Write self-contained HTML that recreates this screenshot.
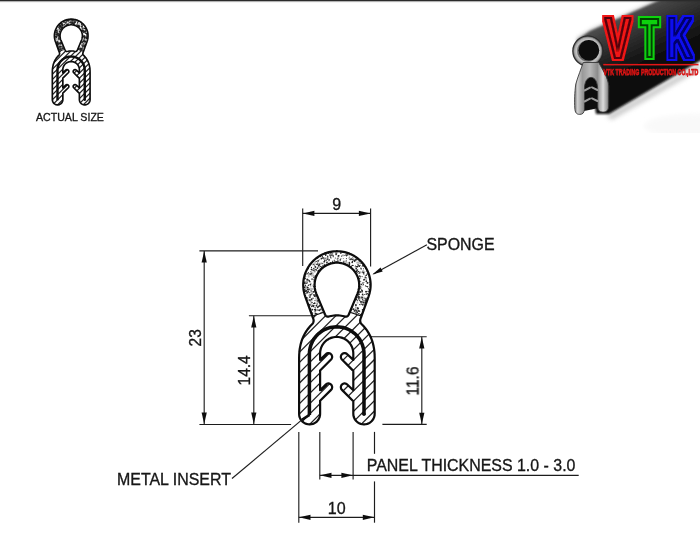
<!DOCTYPE html>
<html><head><meta charset="utf-8"><title>Sponge edge trim profile</title>
<style>html,body{margin:0;padding:0;background:#fff;}body{width:700px;height:551px;position:relative;overflow:hidden;font-family:"Liberation Sans",Arial,sans-serif;}</style></head>
<body>
<svg width="700" height="551" viewBox="0 0 700 551" style="position:absolute;left:0;top:0">
<defs>
<filter id="b1" x="-10%" y="-10%" width="120%" height="120%"><feGaussianBlur stdDeviation="0.9"/></filter>
<filter id="b05" x="-10%" y="-10%" width="120%" height="120%"><feGaussianBlur stdDeviation="0.5"/></filter>
<filter id="b03" x="-5%" y="-5%" width="110%" height="110%"><feGaussianBlur stdDeviation="0.35"/></filter>
<filter id="b2" x="-10%" y="-10%" width="120%" height="120%"><feGaussianBlur stdDeviation="2"/></filter>
</defs>
<rect width="700" height="551" fill="#fff"/>
<g filter="url(#b03)">
<line x1="302.7" y1="208.5" x2="302.7" y2="266" stroke="#1e1e1e" stroke-width="1.15"/>
<line x1="370.6" y1="208.5" x2="370.6" y2="266.4" stroke="#1e1e1e" stroke-width="1.15"/>
<line x1="302.7" y1="213.4" x2="370.6" y2="213.4" stroke="#1e1e1e" stroke-width="1.15"/>
<polygon points="302.90,213.40 314.40,210.80 314.40,216.00" fill="#111"/>
<polygon points="370.40,213.40 358.90,210.80 358.90,216.00" fill="#111"/>
<line x1="199.4" y1="250.9" x2="318.0" y2="250.9" stroke="#1e1e1e" stroke-width="1.15"/>
<line x1="199.4" y1="424.5" x2="291.1" y2="424.5" stroke="#1e1e1e" stroke-width="1.15"/>
<line x1="204.2" y1="250.9" x2="204.2" y2="424.3" stroke="#1e1e1e" stroke-width="1.15"/>
<polygon points="204.20,251.10 201.60,262.60 206.80,262.60" fill="#111"/>
<polygon points="204.20,424.10 201.60,412.60 206.80,412.60" fill="#111"/>
<line x1="248.9" y1="315.7" x2="312" y2="315.7" stroke="#1e1e1e" stroke-width="1.15"/>
<line x1="253.8" y1="315.7" x2="253.8" y2="424.3" stroke="#1e1e1e" stroke-width="1.15"/>
<polygon points="253.80,315.90 251.20,327.40 256.40,327.40" fill="#111"/>
<polygon points="253.80,424.10 251.20,412.60 256.40,412.60" fill="#111"/>
<line x1="362" y1="336.7" x2="426.7" y2="336.7" stroke="#1e1e1e" stroke-width="1.15"/>
<line x1="382.4" y1="424.4" x2="426.7" y2="424.4" stroke="#1e1e1e" stroke-width="1.15"/>
<line x1="421.8" y1="336.7" x2="421.8" y2="424.4" stroke="#1e1e1e" stroke-width="1.15"/>
<polygon points="421.80,336.90 419.20,348.40 424.40,348.40" fill="#111"/>
<polygon points="421.80,424.20 419.20,412.70 424.40,412.70" fill="#111"/>
<line x1="298.8" y1="431.9" x2="298.8" y2="522.7" stroke="#1e1e1e" stroke-width="1.15"/>
<line x1="374.5" y1="431.9" x2="374.5" y2="453.8" stroke="#1e1e1e" stroke-width="1.15"/>
<line x1="374.5" y1="481.4" x2="374.5" y2="522.7" stroke="#1e1e1e" stroke-width="1.15"/>
<line x1="319.8" y1="431.9" x2="319.8" y2="479.5" stroke="#1e1e1e" stroke-width="1.15"/>
<line x1="353.1" y1="431.9" x2="353.1" y2="479.5" stroke="#1e1e1e" stroke-width="1.15"/>
<line x1="319.8" y1="475.3" x2="578.7" y2="475.3" stroke="#1e1e1e" stroke-width="1.15"/>
<polygon points="320.00,475.30 331.50,472.70 331.50,477.90" fill="#111"/>
<polygon points="352.90,475.30 341.40,472.70 341.40,477.90" fill="#111"/>
<line x1="298.8" y1="517.3" x2="374.5" y2="517.3" stroke="#1e1e1e" stroke-width="1.15"/>
<polygon points="299.00,517.30 310.50,514.70 310.50,519.90" fill="#111"/>
<polygon points="374.30,517.30 362.80,514.70 362.80,519.90" fill="#111"/>
<line x1="426.9" y1="244.8" x2="373.5" y2="273.9" stroke="#1e1e1e" stroke-width="1.15"/>
<polygon points="372.40,274.50 382.72,271.50 380.52,267.46" fill="#111"/>
</g>
<g filter="url(#b03)">
<clipPath id="msil"><path d="M312.40,316.40 L312.72,317.23 L313.05,318.06 L313.34,318.92 L313.55,319.80 L313.63,320.72 L313.53,321.69 L313.20,322.71 L312.60,323.80 L311.36,325.01 L310.12,326.31 L308.90,327.72 L307.71,329.23 L306.54,330.85 L305.43,332.60 L304.37,334.47 L303.38,336.48 L302.46,338.62 L301.63,340.90 L300.90,343.34 L300.28,345.93 L299.78,348.69 L299.41,351.62 L299.18,354.72 L299.10,358.00 L299.10,413.90 L299.10,413.90 L299.23,415.54 L299.61,417.14 L300.24,418.67 L301.11,420.07 L302.18,421.32 L303.43,422.39 L304.83,423.26 L306.36,423.89 L307.96,424.27 L309.60,424.40 L311.24,424.27 L312.84,423.89 L314.37,423.26 L315.77,422.39 L317.02,421.32 L318.09,420.07 L318.96,418.67 L319.59,417.14 L319.97,415.54 L320.10,413.90 L320.10,400.80 L331.05,389.85 L331.58,389.20 L331.94,388.44 L332.13,387.62 L332.13,386.78 L331.94,385.96 L331.58,385.20 L331.05,384.55 L330.40,384.02 L329.64,383.66 L328.82,383.47 L327.98,383.47 L327.16,383.66 L326.40,384.02 L325.75,384.55 L320.10,390.20 L320.10,370.50 L331.05,359.55 L331.58,358.90 L331.94,358.14 L332.13,357.32 L332.13,356.48 L331.94,355.66 L331.58,354.90 L331.05,354.25 L330.40,353.72 L329.64,353.36 L328.82,353.17 L327.98,353.17 L327.16,353.36 L326.40,353.72 L325.75,354.25 L320.10,359.90 L320.10,353.50 L320.10,353.50 L320.18,351.87 L320.42,350.26 L320.81,348.68 L321.36,347.15 L322.06,345.67 L322.90,344.28 L323.87,342.97 L324.96,341.76 L326.17,340.67 L327.48,339.70 L328.87,338.86 L330.35,338.16 L331.88,337.61 L333.46,337.22 L335.07,336.98 L336.70,336.90 L338.33,336.98 L339.94,337.22 L341.52,337.61 L343.05,338.16 L344.53,338.86 L345.92,339.70 L347.23,340.67 L348.44,341.76 L349.53,342.97 L350.50,344.28 L351.34,345.67 L352.04,347.15 L352.59,348.68 L352.98,350.26 L353.22,351.87 L353.30,353.50 L353.30,353.50 L353.30,359.90 L347.25,354.25 L346.60,353.72 L345.84,353.36 L345.02,353.17 L344.18,353.17 L343.36,353.36 L342.60,353.72 L341.95,354.25 L341.42,354.90 L341.06,355.66 L340.87,356.48 L340.87,357.32 L341.06,358.14 L341.42,358.90 L341.95,359.55 L353.30,370.90 L353.30,390.20 L347.25,384.55 L346.60,384.02 L345.84,383.66 L345.02,383.47 L344.18,383.47 L343.36,383.66 L342.60,384.02 L341.95,384.55 L341.42,385.20 L341.06,385.96 L340.87,386.78 L340.87,387.62 L341.06,388.44 L341.42,389.20 L341.95,389.85 L353.30,401.20 L353.30,413.70 L353.43,415.37 L353.82,417.01 L354.47,418.56 L355.34,419.99 L356.43,421.27 L357.71,422.36 L359.14,423.23 L360.69,423.88 L362.33,424.27 L364.00,424.40 L365.67,424.27 L367.31,423.88 L368.86,423.23 L370.29,422.36 L371.57,421.27 L372.66,419.99 L373.53,418.56 L374.18,417.01 L374.57,415.37 L374.70,413.70 L374.70,413.70 L374.70,358.00 L374.62,354.72 L374.39,351.62 L374.02,348.69 L373.52,345.93 L372.90,343.34 L372.17,340.90 L371.34,338.62 L370.43,336.48 L369.43,334.47 L368.37,332.60 L367.26,330.85 L366.09,329.23 L364.90,327.72 L363.67,326.31 L362.44,325.01 L361.20,323.80 L360.60,322.71 L360.27,321.69 L360.17,320.72 L360.25,319.80 L360.46,318.92 L360.75,318.06 L361.08,317.23 L361.40,316.40 L368.62,296.28 L369.13,294.75 L369.56,293.20 L369.92,291.62 L370.21,290.04 L370.41,288.44 L370.54,286.83 L370.60,285.22 L370.58,283.60 L370.47,281.99 L370.30,280.39 L370.04,278.79 L369.71,277.22 L369.31,275.65 L368.83,274.11 L368.27,272.60 L367.65,271.11 L366.95,269.65 L366.19,268.23 L365.36,266.85 L364.46,265.51 L363.50,264.21 L362.48,262.96 L361.40,261.76 L360.27,260.62 L359.08,259.53 L357.84,258.49 L356.55,257.52 L355.22,256.61 L353.84,255.77 L352.43,254.99 L350.98,254.28 L349.50,253.64 L347.99,253.08 L346.45,252.58 L344.89,252.16 L343.32,251.82 L341.72,251.55 L340.12,251.35 L338.51,251.24 L336.90,251.20 L335.29,251.24 L333.68,251.35 L332.08,251.55 L330.48,251.82 L328.91,252.16 L327.35,252.58 L325.81,253.08 L324.30,253.64 L322.82,254.28 L321.37,254.99 L319.96,255.77 L318.58,256.61 L317.25,257.52 L315.96,258.49 L314.72,259.53 L313.53,260.62 L312.40,261.76 L311.32,262.96 L310.30,264.21 L309.34,265.51 L308.44,266.85 L307.61,268.23 L306.85,269.65 L306.15,271.11 L305.53,272.60 L304.97,274.11 L304.49,275.65 L304.09,277.22 L303.76,278.79 L303.50,280.39 L303.33,281.99 L303.22,283.60 L303.20,285.22 L303.26,286.83 L303.39,288.44 L303.59,290.04 L303.88,291.62 L304.24,293.20 L304.67,294.75 L305.18,296.28 L312.40,316.40 Z"/></clipPath>
<clipPath id="mlow"><path d="M280.00,316.30 L312.10,316.30 L323.60,312.30 L350.20,312.30 L361.70,316.30 L400.00,316.30 L400.00,440.00 L280.00,440.00 Z"/></clipPath>
<clipPath id="mup"><path d="M280.00,316.30 L312.10,316.30 L323.60,312.30 L350.20,312.30 L361.70,316.30 L400.00,316.30 L400.00,240.00 L280.00,240.00 Z"/></clipPath>
<path d="M312.40,316.40 L312.72,317.23 L313.05,318.06 L313.34,318.92 L313.55,319.80 L313.63,320.72 L313.53,321.69 L313.20,322.71 L312.60,323.80 L311.36,325.01 L310.12,326.31 L308.90,327.72 L307.71,329.23 L306.54,330.85 L305.43,332.60 L304.37,334.47 L303.38,336.48 L302.46,338.62 L301.63,340.90 L300.90,343.34 L300.28,345.93 L299.78,348.69 L299.41,351.62 L299.18,354.72 L299.10,358.00 L299.10,413.90 L299.10,413.90 L299.23,415.54 L299.61,417.14 L300.24,418.67 L301.11,420.07 L302.18,421.32 L303.43,422.39 L304.83,423.26 L306.36,423.89 L307.96,424.27 L309.60,424.40 L311.24,424.27 L312.84,423.89 L314.37,423.26 L315.77,422.39 L317.02,421.32 L318.09,420.07 L318.96,418.67 L319.59,417.14 L319.97,415.54 L320.10,413.90 L320.10,400.80 L331.05,389.85 L331.58,389.20 L331.94,388.44 L332.13,387.62 L332.13,386.78 L331.94,385.96 L331.58,385.20 L331.05,384.55 L330.40,384.02 L329.64,383.66 L328.82,383.47 L327.98,383.47 L327.16,383.66 L326.40,384.02 L325.75,384.55 L320.10,390.20 L320.10,370.50 L331.05,359.55 L331.58,358.90 L331.94,358.14 L332.13,357.32 L332.13,356.48 L331.94,355.66 L331.58,354.90 L331.05,354.25 L330.40,353.72 L329.64,353.36 L328.82,353.17 L327.98,353.17 L327.16,353.36 L326.40,353.72 L325.75,354.25 L320.10,359.90 L320.10,353.50 L320.10,353.50 L320.18,351.87 L320.42,350.26 L320.81,348.68 L321.36,347.15 L322.06,345.67 L322.90,344.28 L323.87,342.97 L324.96,341.76 L326.17,340.67 L327.48,339.70 L328.87,338.86 L330.35,338.16 L331.88,337.61 L333.46,337.22 L335.07,336.98 L336.70,336.90 L338.33,336.98 L339.94,337.22 L341.52,337.61 L343.05,338.16 L344.53,338.86 L345.92,339.70 L347.23,340.67 L348.44,341.76 L349.53,342.97 L350.50,344.28 L351.34,345.67 L352.04,347.15 L352.59,348.68 L352.98,350.26 L353.22,351.87 L353.30,353.50 L353.30,353.50 L353.30,359.90 L347.25,354.25 L346.60,353.72 L345.84,353.36 L345.02,353.17 L344.18,353.17 L343.36,353.36 L342.60,353.72 L341.95,354.25 L341.42,354.90 L341.06,355.66 L340.87,356.48 L340.87,357.32 L341.06,358.14 L341.42,358.90 L341.95,359.55 L353.30,370.90 L353.30,390.20 L347.25,384.55 L346.60,384.02 L345.84,383.66 L345.02,383.47 L344.18,383.47 L343.36,383.66 L342.60,384.02 L341.95,384.55 L341.42,385.20 L341.06,385.96 L340.87,386.78 L340.87,387.62 L341.06,388.44 L341.42,389.20 L341.95,389.85 L353.30,401.20 L353.30,413.70 L353.43,415.37 L353.82,417.01 L354.47,418.56 L355.34,419.99 L356.43,421.27 L357.71,422.36 L359.14,423.23 L360.69,423.88 L362.33,424.27 L364.00,424.40 L365.67,424.27 L367.31,423.88 L368.86,423.23 L370.29,422.36 L371.57,421.27 L372.66,419.99 L373.53,418.56 L374.18,417.01 L374.57,415.37 L374.70,413.70 L374.70,413.70 L374.70,358.00 L374.62,354.72 L374.39,351.62 L374.02,348.69 L373.52,345.93 L372.90,343.34 L372.17,340.90 L371.34,338.62 L370.43,336.48 L369.43,334.47 L368.37,332.60 L367.26,330.85 L366.09,329.23 L364.90,327.72 L363.67,326.31 L362.44,325.01 L361.20,323.80 L360.60,322.71 L360.27,321.69 L360.17,320.72 L360.25,319.80 L360.46,318.92 L360.75,318.06 L361.08,317.23 L361.40,316.40 L368.62,296.28 L369.13,294.75 L369.56,293.20 L369.92,291.62 L370.21,290.04 L370.41,288.44 L370.54,286.83 L370.60,285.22 L370.58,283.60 L370.47,281.99 L370.30,280.39 L370.04,278.79 L369.71,277.22 L369.31,275.65 L368.83,274.11 L368.27,272.60 L367.65,271.11 L366.95,269.65 L366.19,268.23 L365.36,266.85 L364.46,265.51 L363.50,264.21 L362.48,262.96 L361.40,261.76 L360.27,260.62 L359.08,259.53 L357.84,258.49 L356.55,257.52 L355.22,256.61 L353.84,255.77 L352.43,254.99 L350.98,254.28 L349.50,253.64 L347.99,253.08 L346.45,252.58 L344.89,252.16 L343.32,251.82 L341.72,251.55 L340.12,251.35 L338.51,251.24 L336.90,251.20 L335.29,251.24 L333.68,251.35 L332.08,251.55 L330.48,251.82 L328.91,252.16 L327.35,252.58 L325.81,253.08 L324.30,253.64 L322.82,254.28 L321.37,254.99 L319.96,255.77 L318.58,256.61 L317.25,257.52 L315.96,258.49 L314.72,259.53 L313.53,260.62 L312.40,261.76 L311.32,262.96 L310.30,264.21 L309.34,265.51 L308.44,266.85 L307.61,268.23 L306.85,269.65 L306.15,271.11 L305.53,272.60 L304.97,274.11 L304.49,275.65 L304.09,277.22 L303.76,278.79 L303.50,280.39 L303.33,281.99 L303.22,283.60 L303.20,285.22 L303.26,286.83 L303.39,288.44 L303.59,290.04 L303.88,291.62 L304.24,293.20 L304.67,294.75 L305.18,296.28 L312.40,316.40 Z" fill="#fff"/>
<g clip-path="url(#msil)"><g clip-path="url(#mlow)" stroke="#222" stroke-width="1.25">
<line x1="290" y1="145.3" x2="385" y2="50.3"/>
<line x1="290" y1="155.6" x2="385" y2="60.6"/>
<line x1="290" y1="165.9" x2="385" y2="70.9"/>
<line x1="290" y1="176.2" x2="385" y2="81.2"/>
<line x1="290" y1="186.5" x2="385" y2="91.5"/>
<line x1="290" y1="196.8" x2="385" y2="101.8"/>
<line x1="290" y1="207.1" x2="385" y2="112.1"/>
<line x1="290" y1="217.4" x2="385" y2="122.4"/>
<line x1="290" y1="227.7" x2="385" y2="132.7"/>
<line x1="290" y1="238.0" x2="385" y2="143.0"/>
<line x1="290" y1="248.3" x2="385" y2="153.3"/>
<line x1="290" y1="258.6" x2="385" y2="163.6"/>
<line x1="290" y1="268.9" x2="385" y2="173.9"/>
<line x1="290" y1="279.2" x2="385" y2="184.2"/>
<line x1="290" y1="289.5" x2="385" y2="194.5"/>
<line x1="290" y1="299.8" x2="385" y2="204.8"/>
<line x1="290" y1="310.1" x2="385" y2="215.1"/>
<line x1="290" y1="320.4" x2="385" y2="225.4"/>
<line x1="290" y1="330.7" x2="385" y2="235.7"/>
<line x1="290" y1="341.0" x2="385" y2="246.0"/>
<line x1="290" y1="351.3" x2="385" y2="256.3"/>
<line x1="290" y1="361.6" x2="385" y2="266.6"/>
<line x1="290" y1="371.9" x2="385" y2="276.9"/>
<line x1="290" y1="382.2" x2="385" y2="287.2"/>
<line x1="290" y1="392.5" x2="385" y2="297.5"/>
<line x1="290" y1="402.8" x2="385" y2="307.8"/>
<line x1="290" y1="413.1" x2="385" y2="318.1"/>
<line x1="290" y1="423.4" x2="385" y2="328.4"/>
<line x1="290" y1="433.7" x2="385" y2="338.7"/>
<line x1="290" y1="444.0" x2="385" y2="349.0"/>
<line x1="290" y1="454.3" x2="385" y2="359.3"/>
<line x1="290" y1="464.6" x2="385" y2="369.6"/>
<line x1="290" y1="474.9" x2="385" y2="379.9"/>
<line x1="290" y1="485.2" x2="385" y2="390.2"/>
<line x1="290" y1="495.5" x2="385" y2="400.5"/>
<line x1="290" y1="505.8" x2="385" y2="410.8"/>
<line x1="290" y1="516.1" x2="385" y2="421.1"/>
<line x1="290" y1="526.4" x2="385" y2="431.4"/>
<line x1="290" y1="536.7" x2="385" y2="441.7"/>
<line x1="290" y1="547.0" x2="385" y2="452.0"/>
<line x1="290" y1="557.3" x2="385" y2="462.3"/>
<line x1="290" y1="567.6" x2="385" y2="472.6"/>
<line x1="290" y1="577.9" x2="385" y2="482.9"/>
<line x1="290" y1="588.2" x2="385" y2="493.2"/>
<line x1="290" y1="598.5" x2="385" y2="503.5"/>
<line x1="290" y1="608.8" x2="385" y2="513.8"/>
</g></g>
<g clip-path="url(#msil)"><g clip-path="url(#mup)" fill="#222">
<circle cx="324.0" cy="259.3" r="0.45"/>
<circle cx="305.4" cy="285.4" r="0.60"/>
<circle cx="340.8" cy="253.0" r="0.85"/>
<circle cx="363.5" cy="268.7" r="0.55"/>
<circle cx="307.6" cy="287.8" r="0.55"/>
<circle cx="315.2" cy="295.3" r="0.70"/>
<circle cx="368.3" cy="273.6" r="0.55"/>
<circle cx="358.8" cy="296.5" r="0.55"/>
<circle cx="305.4" cy="283.8" r="0.55"/>
<circle cx="356.0" cy="259.3" r="0.70"/>
<circle cx="305.7" cy="286.9" r="0.60"/>
<circle cx="353.0" cy="309.3" r="0.60"/>
<circle cx="309.6" cy="265.8" r="0.70"/>
<circle cx="367.8" cy="282.8" r="0.55"/>
<circle cx="365.4" cy="304.7" r="0.85"/>
<circle cx="313.0" cy="264.8" r="0.55"/>
<circle cx="313.5" cy="268.2" r="0.55"/>
<circle cx="357.7" cy="308.5" r="0.85"/>
<circle cx="307.7" cy="292.1" r="0.45"/>
<circle cx="314.1" cy="316.0" r="0.70"/>
<circle cx="312.0" cy="272.1" r="0.45"/>
<circle cx="307.6" cy="287.5" r="0.85"/>
<circle cx="307.5" cy="273.7" r="0.45"/>
<circle cx="370.7" cy="290.0" r="0.70"/>
<circle cx="309.1" cy="306.7" r="0.70"/>
<circle cx="310.7" cy="300.0" r="0.60"/>
<circle cx="338.2" cy="263.0" r="0.85"/>
<circle cx="367.6" cy="300.6" r="0.60"/>
<circle cx="351.5" cy="266.8" r="0.60"/>
<circle cx="367.2" cy="273.2" r="0.55"/>
<circle cx="324.4" cy="264.2" r="0.55"/>
<circle cx="359.6" cy="304.6" r="0.55"/>
<circle cx="314.8" cy="282.5" r="0.45"/>
<circle cx="334.9" cy="262.2" r="0.85"/>
<circle cx="316.3" cy="264.4" r="0.55"/>
<circle cx="314.7" cy="309.5" r="0.70"/>
<circle cx="358.4" cy="271.6" r="0.70"/>
<circle cx="359.2" cy="298.4" r="0.45"/>
<circle cx="361.1" cy="263.4" r="0.60"/>
<circle cx="356.5" cy="271.2" r="0.85"/>
<circle cx="331.0" cy="257.9" r="0.60"/>
<circle cx="366.4" cy="294.0" r="0.85"/>
<circle cx="332.6" cy="261.5" r="0.45"/>
<circle cx="357.4" cy="259.2" r="0.55"/>
<circle cx="320.5" cy="301.5" r="0.85"/>
<circle cx="333.5" cy="250.9" r="0.45"/>
<circle cx="332.7" cy="253.9" r="0.55"/>
<circle cx="331.7" cy="263.5" r="0.60"/>
<circle cx="358.0" cy="310.0" r="0.55"/>
<circle cx="369.5" cy="292.8" r="0.60"/>
<circle cx="310.6" cy="309.0" r="0.70"/>
<circle cx="316.2" cy="313.8" r="0.70"/>
<circle cx="349.4" cy="264.2" r="0.70"/>
<circle cx="306.8" cy="273.9" r="0.60"/>
<circle cx="358.3" cy="315.1" r="0.45"/>
<circle cx="355.9" cy="304.7" r="0.60"/>
<circle cx="359.2" cy="261.5" r="0.45"/>
<circle cx="345.0" cy="264.1" r="0.60"/>
<circle cx="363.8" cy="279.9" r="0.60"/>
<circle cx="367.7" cy="291.3" r="0.45"/>
<circle cx="356.2" cy="268.7" r="0.85"/>
<circle cx="349.7" cy="267.4" r="0.45"/>
<circle cx="322.8" cy="263.6" r="0.55"/>
<circle cx="318.9" cy="260.1" r="0.45"/>
<circle cx="316.1" cy="261.4" r="0.60"/>
<circle cx="337.2" cy="262.7" r="0.85"/>
<circle cx="366.1" cy="302.3" r="0.85"/>
<circle cx="366.0" cy="291.7" r="0.85"/>
<circle cx="310.3" cy="284.6" r="0.85"/>
<circle cx="359.0" cy="297.4" r="0.55"/>
<circle cx="362.6" cy="265.0" r="0.55"/>
<circle cx="317.1" cy="293.2" r="0.70"/>
<circle cx="347.6" cy="254.3" r="0.55"/>
<circle cx="309.9" cy="281.8" r="0.70"/>
<circle cx="314.7" cy="315.5" r="0.70"/>
<circle cx="360.7" cy="314.8" r="0.70"/>
<circle cx="355.3" cy="266.8" r="0.60"/>
<circle cx="309.8" cy="304.8" r="0.85"/>
<circle cx="320.7" cy="256.7" r="0.60"/>
<circle cx="317.1" cy="310.0" r="0.70"/>
<circle cx="329.2" cy="259.8" r="0.70"/>
<circle cx="327.8" cy="257.2" r="0.60"/>
<circle cx="368.6" cy="297.5" r="0.60"/>
<circle cx="355.9" cy="307.1" r="0.60"/>
<circle cx="321.1" cy="312.6" r="0.55"/>
<circle cx="358.1" cy="278.1" r="0.45"/>
<circle cx="360.1" cy="291.9" r="0.85"/>
<circle cx="309.4" cy="281.1" r="0.60"/>
<circle cx="320.8" cy="266.4" r="0.60"/>
<circle cx="308.9" cy="292.7" r="0.45"/>
<circle cx="315.4" cy="310.6" r="0.70"/>
<circle cx="318.1" cy="260.9" r="0.85"/>
<circle cx="365.7" cy="300.0" r="0.70"/>
<circle cx="315.5" cy="267.4" r="0.45"/>
<circle cx="366.4" cy="275.2" r="0.70"/>
<circle cx="360.3" cy="314.8" r="0.55"/>
<circle cx="366.3" cy="281.2" r="0.85"/>
<circle cx="336.2" cy="254.0" r="0.85"/>
<circle cx="318.4" cy="256.4" r="0.55"/>
<circle cx="308.1" cy="305.1" r="0.70"/>
<circle cx="342.1" cy="251.6" r="0.60"/>
<circle cx="322.2" cy="313.2" r="0.55"/>
<circle cx="328.7" cy="264.2" r="0.85"/>
<circle cx="340.5" cy="251.0" r="0.70"/>
<circle cx="314.7" cy="303.2" r="0.85"/>
<circle cx="305.0" cy="282.7" r="0.55"/>
<circle cx="317.1" cy="264.1" r="0.60"/>
<circle cx="308.1" cy="291.4" r="0.85"/>
<circle cx="313.9" cy="264.2" r="0.70"/>
<circle cx="352.5" cy="261.5" r="0.70"/>
<circle cx="354.2" cy="316.8" r="0.55"/>
<circle cx="324.4" cy="261.6" r="0.85"/>
<circle cx="360.8" cy="278.4" r="0.45"/>
<circle cx="352.2" cy="262.3" r="0.85"/>
<circle cx="360.1" cy="301.1" r="0.45"/>
<circle cx="324.8" cy="313.9" r="0.45"/>
<circle cx="323.4" cy="267.7" r="0.45"/>
<circle cx="359.6" cy="313.4" r="0.45"/>
<circle cx="313.5" cy="303.6" r="0.60"/>
<circle cx="360.9" cy="301.6" r="0.85"/>
<circle cx="317.5" cy="307.6" r="0.70"/>
<circle cx="355.7" cy="265.8" r="0.45"/>
<circle cx="340.3" cy="259.9" r="0.70"/>
<circle cx="307.1" cy="282.9" r="0.70"/>
<circle cx="357.3" cy="300.7" r="0.60"/>
<circle cx="314.7" cy="265.8" r="0.55"/>
<circle cx="317.4" cy="268.1" r="0.85"/>
<circle cx="318.6" cy="265.7" r="0.85"/>
<circle cx="317.1" cy="304.0" r="0.70"/>
<circle cx="362.2" cy="311.2" r="0.45"/>
<circle cx="303.7" cy="289.8" r="0.85"/>
<circle cx="337.9" cy="261.1" r="0.85"/>
<circle cx="319.2" cy="301.9" r="0.45"/>
<circle cx="307.8" cy="289.5" r="0.85"/>
<circle cx="354.2" cy="311.1" r="0.45"/>
<circle cx="360.6" cy="276.8" r="0.60"/>
<circle cx="313.7" cy="270.2" r="0.55"/>
<circle cx="358.9" cy="294.2" r="0.55"/>
<circle cx="347.3" cy="255.2" r="0.55"/>
<circle cx="330.9" cy="252.5" r="0.85"/>
<circle cx="365.4" cy="277.2" r="0.45"/>
<circle cx="326.9" cy="262.4" r="0.70"/>
<circle cx="366.7" cy="277.8" r="0.45"/>
<circle cx="334.1" cy="260.1" r="0.45"/>
<circle cx="359.7" cy="276.0" r="0.85"/>
<circle cx="337.3" cy="258.9" r="0.60"/>
<circle cx="305.0" cy="275.1" r="0.55"/>
<circle cx="322.3" cy="305.9" r="0.45"/>
<circle cx="311.9" cy="302.4" r="0.55"/>
<circle cx="314.5" cy="281.2" r="0.85"/>
<circle cx="316.1" cy="276.2" r="0.85"/>
<circle cx="311.6" cy="273.4" r="0.55"/>
<circle cx="318.3" cy="298.3" r="0.55"/>
<circle cx="303.0" cy="287.2" r="0.45"/>
<circle cx="362.8" cy="301.9" r="0.70"/>
<circle cx="322.8" cy="265.9" r="0.70"/>
<circle cx="317.4" cy="300.9" r="0.70"/>
<circle cx="361.9" cy="304.1" r="0.70"/>
<circle cx="331.9" cy="255.2" r="0.70"/>
<circle cx="355.7" cy="309.9" r="0.55"/>
<circle cx="365.5" cy="268.6" r="0.55"/>
<circle cx="316.4" cy="305.6" r="0.85"/>
<circle cx="356.0" cy="259.8" r="0.85"/>
<circle cx="320.3" cy="304.5" r="0.55"/>
<circle cx="318.8" cy="314.6" r="0.70"/>
<circle cx="315.4" cy="266.9" r="0.85"/>
<circle cx="317.6" cy="274.3" r="0.55"/>
<circle cx="369.3" cy="295.2" r="0.70"/>
<circle cx="312.5" cy="302.4" r="0.45"/>
<circle cx="351.0" cy="309.9" r="0.60"/>
<circle cx="319.6" cy="316.4" r="0.85"/>
<circle cx="310.8" cy="271.5" r="0.45"/>
<circle cx="332.7" cy="261.0" r="0.45"/>
<circle cx="322.9" cy="314.7" r="0.85"/>
<circle cx="354.2" cy="299.8" r="0.55"/>
<circle cx="311.1" cy="290.9" r="0.70"/>
<circle cx="303.5" cy="282.2" r="0.85"/>
<circle cx="307.9" cy="273.3" r="0.55"/>
<circle cx="309.9" cy="273.9" r="0.70"/>
<circle cx="359.3" cy="297.1" r="0.70"/>
<circle cx="307.1" cy="292.4" r="0.60"/>
<circle cx="318.4" cy="310.4" r="0.45"/>
<circle cx="313.7" cy="259.8" r="0.45"/>
<circle cx="314.8" cy="290.3" r="0.85"/>
<circle cx="304.7" cy="291.6" r="0.70"/>
<circle cx="362.5" cy="299.7" r="0.70"/>
<circle cx="306.0" cy="293.6" r="0.55"/>
<circle cx="351.4" cy="306.5" r="0.45"/>
<circle cx="347.5" cy="314.6" r="0.55"/>
<circle cx="306.3" cy="283.5" r="0.55"/>
<circle cx="319.3" cy="265.1" r="0.55"/>
<circle cx="324.3" cy="265.3" r="0.85"/>
<circle cx="351.6" cy="307.3" r="0.70"/>
<circle cx="365.5" cy="302.7" r="0.70"/>
<circle cx="346.1" cy="254.3" r="0.55"/>
<circle cx="325.5" cy="258.6" r="0.45"/>
<circle cx="363.4" cy="300.8" r="0.55"/>
<circle cx="360.5" cy="304.7" r="0.45"/>
<circle cx="365.1" cy="300.4" r="0.70"/>
<circle cx="362.7" cy="304.2" r="0.45"/>
<circle cx="361.1" cy="291.9" r="0.60"/>
<circle cx="335.3" cy="258.0" r="0.55"/>
<circle cx="356.2" cy="310.9" r="0.85"/>
<circle cx="357.2" cy="272.6" r="0.45"/>
<circle cx="360.7" cy="260.6" r="0.45"/>
<circle cx="325.7" cy="255.5" r="0.55"/>
<circle cx="370.8" cy="284.0" r="0.85"/>
<circle cx="315.9" cy="296.6" r="0.70"/>
<circle cx="312.3" cy="312.8" r="0.45"/>
<circle cx="341.5" cy="256.1" r="0.60"/>
<circle cx="319.5" cy="310.3" r="0.85"/>
<circle cx="312.7" cy="315.8" r="0.55"/>
<circle cx="364.2" cy="279.6" r="0.85"/>
<circle cx="354.9" cy="260.5" r="0.70"/>
<circle cx="351.0" cy="266.5" r="0.55"/>
<circle cx="309.3" cy="280.4" r="0.55"/>
<circle cx="355.9" cy="305.2" r="0.85"/>
<circle cx="318.3" cy="271.2" r="0.85"/>
<circle cx="325.8" cy="265.1" r="0.55"/>
<circle cx="319.1" cy="313.9" r="0.45"/>
<circle cx="312.2" cy="293.7" r="0.55"/>
<circle cx="358.8" cy="298.9" r="0.70"/>
<circle cx="320.3" cy="256.4" r="0.45"/>
<circle cx="320.8" cy="309.2" r="0.70"/>
<circle cx="358.5" cy="296.2" r="0.85"/>
<circle cx="317.9" cy="307.0" r="0.85"/>
<circle cx="362.6" cy="294.4" r="0.85"/>
<circle cx="363.1" cy="295.2" r="0.45"/>
<circle cx="346.5" cy="255.7" r="0.70"/>
<circle cx="352.7" cy="259.6" r="0.70"/>
<circle cx="363.5" cy="284.2" r="0.55"/>
<circle cx="366.2" cy="271.3" r="0.45"/>
<circle cx="340.2" cy="259.9" r="0.55"/>
<circle cx="338.4" cy="255.9" r="0.85"/>
<circle cx="333.8" cy="262.9" r="0.70"/>
<circle cx="361.3" cy="284.5" r="0.70"/>
<circle cx="328.3" cy="253.2" r="0.45"/>
<circle cx="319.6" cy="264.3" r="0.70"/>
<circle cx="369.6" cy="284.8" r="0.55"/>
<circle cx="334.2" cy="260.2" r="0.45"/>
<circle cx="359.9" cy="292.1" r="0.70"/>
<circle cx="358.8" cy="277.1" r="0.60"/>
<circle cx="358.0" cy="264.7" r="0.70"/>
<circle cx="350.9" cy="315.8" r="0.55"/>
<circle cx="359.1" cy="273.3" r="0.60"/>
<circle cx="346.1" cy="254.8" r="0.60"/>
<circle cx="311.3" cy="269.6" r="0.70"/>
<circle cx="367.0" cy="302.3" r="0.55"/>
<circle cx="313.7" cy="279.7" r="0.55"/>
<circle cx="315.4" cy="276.4" r="0.85"/>
<circle cx="312.4" cy="309.6" r="0.85"/>
<circle cx="366.7" cy="286.3" r="0.60"/>
<circle cx="314.6" cy="296.1" r="0.85"/>
<circle cx="349.7" cy="257.0" r="0.45"/>
<circle cx="319.6" cy="264.9" r="0.55"/>
<circle cx="351.8" cy="265.8" r="0.55"/>
<circle cx="350.5" cy="312.3" r="0.60"/>
<circle cx="310.7" cy="263.5" r="0.70"/>
<circle cx="363.8" cy="273.9" r="0.70"/>
<circle cx="325.3" cy="266.1" r="0.45"/>
<circle cx="361.2" cy="268.9" r="0.70"/>
<circle cx="358.6" cy="271.5" r="0.60"/>
<circle cx="352.8" cy="257.7" r="0.45"/>
<circle cx="353.5" cy="309.2" r="0.85"/>
<circle cx="360.8" cy="281.3" r="0.45"/>
<circle cx="358.4" cy="310.9" r="0.85"/>
<circle cx="327.8" cy="259.0" r="0.85"/>
<circle cx="346.3" cy="260.8" r="0.55"/>
<circle cx="364.3" cy="277.7" r="0.45"/>
<circle cx="367.6" cy="293.6" r="0.60"/>
<circle cx="367.6" cy="282.8" r="0.85"/>
<circle cx="360.0" cy="288.1" r="0.70"/>
<circle cx="307.6" cy="292.8" r="0.55"/>
<circle cx="366.3" cy="291.6" r="0.70"/>
<circle cx="353.2" cy="265.5" r="0.55"/>
<circle cx="368.3" cy="273.9" r="0.55"/>
<circle cx="318.8" cy="314.6" r="0.45"/>
<circle cx="354.0" cy="260.3" r="0.70"/>
<circle cx="334.8" cy="260.3" r="0.45"/>
<circle cx="352.0" cy="305.3" r="0.60"/>
<circle cx="364.3" cy="298.3" r="0.45"/>
<circle cx="361.5" cy="289.9" r="0.60"/>
<circle cx="319.8" cy="259.7" r="0.45"/>
<circle cx="321.4" cy="258.6" r="0.85"/>
<circle cx="359.0" cy="286.3" r="0.70"/>
<circle cx="325.7" cy="254.8" r="0.85"/>
<circle cx="358.3" cy="298.1" r="0.55"/>
<circle cx="368.5" cy="288.9" r="0.45"/>
<circle cx="358.6" cy="280.3" r="0.45"/>
<circle cx="304.6" cy="276.1" r="0.85"/>
<circle cx="343.6" cy="261.9" r="0.55"/>
<circle cx="363.4" cy="265.7" r="0.70"/>
<circle cx="327.7" cy="256.2" r="0.70"/>
<circle cx="358.3" cy="259.6" r="0.85"/>
<circle cx="344.9" cy="255.4" r="0.55"/>
<circle cx="319.4" cy="302.0" r="0.70"/>
<circle cx="307.2" cy="279.4" r="0.85"/>
<circle cx="360.6" cy="314.5" r="0.60"/>
<circle cx="362.4" cy="272.0" r="0.55"/>
<circle cx="362.6" cy="309.8" r="0.85"/>
<circle cx="352.3" cy="255.1" r="0.60"/>
<circle cx="311.8" cy="314.7" r="0.55"/>
<circle cx="312.7" cy="313.0" r="0.60"/>
<circle cx="304.4" cy="286.6" r="0.45"/>
<circle cx="358.2" cy="297.3" r="0.70"/>
<circle cx="355.9" cy="312.9" r="0.60"/>
<circle cx="359.1" cy="259.7" r="0.55"/>
<circle cx="305.8" cy="291.1" r="0.60"/>
<circle cx="333.1" cy="255.6" r="0.70"/>
<circle cx="362.3" cy="291.7" r="0.70"/>
<circle cx="354.5" cy="261.3" r="0.70"/>
<circle cx="340.9" cy="258.8" r="0.55"/>
<circle cx="311.5" cy="267.4" r="0.60"/>
<circle cx="324.8" cy="260.4" r="0.70"/>
<circle cx="308.1" cy="280.0" r="0.70"/>
<circle cx="349.5" cy="263.4" r="0.70"/>
<circle cx="355.9" cy="315.0" r="0.70"/>
<circle cx="321.4" cy="309.9" r="0.45"/>
<circle cx="361.6" cy="315.5" r="0.55"/>
<circle cx="359.7" cy="272.2" r="0.55"/>
<circle cx="313.4" cy="306.3" r="0.85"/>
<circle cx="357.0" cy="297.4" r="0.55"/>
<circle cx="365.8" cy="298.7" r="0.60"/>
<circle cx="314.2" cy="269.9" r="0.45"/>
<circle cx="364.0" cy="282.5" r="0.45"/>
<circle cx="309.9" cy="294.3" r="0.55"/>
<circle cx="313.8" cy="305.6" r="0.60"/>
<circle cx="326.4" cy="265.6" r="0.60"/>
<circle cx="357.7" cy="308.0" r="0.85"/>
<circle cx="316.6" cy="261.4" r="0.45"/>
<circle cx="319.3" cy="305.9" r="0.85"/>
<circle cx="365.4" cy="285.8" r="0.55"/>
<circle cx="312.2" cy="305.2" r="0.70"/>
<circle cx="362.1" cy="297.7" r="0.85"/>
<circle cx="359.5" cy="311.1" r="0.70"/>
<circle cx="305.1" cy="278.4" r="0.85"/>
<circle cx="349.5" cy="264.3" r="0.70"/>
<circle cx="369.3" cy="292.1" r="0.45"/>
<circle cx="368.4" cy="291.2" r="0.60"/>
<circle cx="308.4" cy="272.6" r="0.55"/>
<circle cx="308.9" cy="289.4" r="0.85"/>
<circle cx="354.5" cy="299.3" r="0.60"/>
<circle cx="362.1" cy="290.5" r="0.85"/>
<circle cx="316.4" cy="275.3" r="0.85"/>
<circle cx="317.9" cy="264.1" r="0.85"/>
<circle cx="312.0" cy="313.7" r="0.60"/>
<circle cx="321.1" cy="316.2" r="0.60"/>
<circle cx="350.1" cy="312.5" r="0.70"/>
<circle cx="362.9" cy="304.8" r="0.85"/>
<circle cx="330.6" cy="256.0" r="0.70"/>
<circle cx="358.0" cy="308.3" r="0.85"/>
<circle cx="351.3" cy="268.6" r="0.60"/>
<circle cx="362.9" cy="283.0" r="0.70"/>
<circle cx="359.4" cy="278.6" r="0.70"/>
<circle cx="343.0" cy="255.0" r="0.60"/>
<circle cx="362.0" cy="314.2" r="0.55"/>
<circle cx="319.0" cy="309.9" r="0.60"/>
<circle cx="326.0" cy="313.5" r="0.45"/>
<circle cx="338.9" cy="255.7" r="0.60"/>
<circle cx="313.9" cy="277.6" r="0.70"/>
<circle cx="312.6" cy="270.6" r="0.45"/>
<circle cx="361.1" cy="283.9" r="0.45"/>
<circle cx="325.4" cy="312.6" r="0.85"/>
<circle cx="365.7" cy="277.6" r="0.55"/>
<circle cx="315.4" cy="309.7" r="0.70"/>
<circle cx="313.5" cy="291.8" r="0.85"/>
<circle cx="307.9" cy="287.8" r="0.45"/>
<circle cx="329.4" cy="255.7" r="0.45"/>
<circle cx="349.4" cy="262.4" r="0.70"/>
<circle cx="338.1" cy="258.8" r="0.55"/>
<circle cx="330.4" cy="257.3" r="0.55"/>
<circle cx="370.1" cy="282.3" r="0.70"/>
<circle cx="357.0" cy="271.0" r="0.55"/>
<circle cx="326.2" cy="260.5" r="0.60"/>
<circle cx="314.2" cy="291.4" r="0.45"/>
<circle cx="323.3" cy="310.1" r="0.70"/>
<circle cx="316.4" cy="270.0" r="0.70"/>
<circle cx="365.3" cy="275.9" r="0.60"/>
<circle cx="308.5" cy="285.3" r="0.70"/>
<circle cx="367.6" cy="286.7" r="0.70"/>
<circle cx="314.1" cy="268.3" r="0.55"/>
<circle cx="317.9" cy="257.8" r="0.55"/>
<circle cx="320.0" cy="305.8" r="0.55"/>
<circle cx="358.8" cy="265.3" r="0.60"/>
<circle cx="315.4" cy="313.7" r="0.85"/>
<circle cx="315.1" cy="307.4" r="0.55"/>
<circle cx="309.3" cy="300.0" r="0.85"/>
<circle cx="354.5" cy="301.0" r="0.45"/>
<circle cx="363.0" cy="270.8" r="0.45"/>
<circle cx="359.6" cy="300.6" r="0.55"/>
<circle cx="316.8" cy="257.6" r="0.70"/>
<circle cx="367.3" cy="301.7" r="0.55"/>
<circle cx="351.1" cy="310.0" r="0.45"/>
<circle cx="318.4" cy="306.6" r="0.60"/>
<circle cx="321.6" cy="267.4" r="0.85"/>
<circle cx="312.0" cy="262.5" r="0.60"/>
<circle cx="311.6" cy="299.2" r="0.85"/>
<circle cx="313.3" cy="306.1" r="0.85"/>
<circle cx="368.5" cy="294.6" r="0.85"/>
<circle cx="361.7" cy="301.8" r="0.60"/>
<circle cx="357.5" cy="272.5" r="0.45"/>
<circle cx="325.8" cy="313.6" r="0.70"/>
<circle cx="368.8" cy="296.0" r="0.70"/>
<circle cx="315.2" cy="294.8" r="0.55"/>
<circle cx="336.2" cy="261.9" r="0.85"/>
<circle cx="330.5" cy="262.7" r="0.60"/>
<circle cx="310.2" cy="295.7" r="0.70"/>
<circle cx="349.6" cy="265.2" r="0.55"/>
<circle cx="309.8" cy="292.6" r="0.60"/>
<circle cx="309.9" cy="297.1" r="0.85"/>
<circle cx="360.3" cy="286.3" r="0.55"/>
<circle cx="350.1" cy="259.5" r="0.70"/>
<circle cx="362.1" cy="276.6" r="0.55"/>
<circle cx="308.5" cy="268.7" r="0.60"/>
<circle cx="336.0" cy="252.0" r="0.60"/>
<circle cx="322.5" cy="256.5" r="0.60"/>
<circle cx="333.2" cy="256.7" r="0.60"/>
<circle cx="303.4" cy="280.9" r="0.70"/>
<circle cx="306.2" cy="297.8" r="0.85"/>
<circle cx="370.8" cy="282.2" r="0.85"/>
<circle cx="310.7" cy="274.0" r="0.85"/>
<circle cx="362.6" cy="312.0" r="0.55"/>
<circle cx="307.6" cy="297.9" r="0.60"/>
<circle cx="354.9" cy="271.2" r="0.55"/>
<circle cx="317.0" cy="258.3" r="0.60"/>
<circle cx="362.0" cy="266.2" r="0.45"/>
<circle cx="303.1" cy="287.5" r="0.70"/>
<circle cx="311.7" cy="269.4" r="0.85"/>
<circle cx="346.4" cy="258.6" r="0.55"/>
<circle cx="312.1" cy="279.1" r="0.70"/>
<circle cx="332.5" cy="262.0" r="0.60"/>
<circle cx="363.3" cy="302.5" r="0.70"/>
<circle cx="313.0" cy="298.3" r="0.70"/>
<circle cx="370.5" cy="281.7" r="0.55"/>
<circle cx="314.0" cy="295.2" r="0.70"/>
<circle cx="351.2" cy="259.0" r="0.85"/>
<circle cx="365.9" cy="286.3" r="0.45"/>
<circle cx="316.4" cy="305.9" r="0.45"/>
<circle cx="313.9" cy="294.6" r="0.70"/>
<circle cx="354.4" cy="310.8" r="0.85"/>
<circle cx="305.9" cy="276.7" r="0.45"/>
<circle cx="362.1" cy="313.5" r="0.85"/>
<circle cx="329.0" cy="260.6" r="0.55"/>
<circle cx="310.1" cy="301.8" r="0.45"/>
<circle cx="329.9" cy="252.2" r="0.45"/>
<circle cx="315.8" cy="269.4" r="0.55"/>
<circle cx="355.2" cy="272.2" r="0.45"/>
<circle cx="303.2" cy="290.1" r="0.45"/>
<circle cx="336.1" cy="254.0" r="0.60"/>
<circle cx="313.7" cy="286.7" r="0.60"/>
<circle cx="364.7" cy="294.5" r="0.55"/>
<circle cx="305.5" cy="291.2" r="0.85"/>
<circle cx="311.7" cy="306.5" r="0.70"/>
<circle cx="317.0" cy="314.1" r="0.85"/>
<circle cx="305.6" cy="271.4" r="0.55"/>
<circle cx="323.0" cy="257.9" r="0.85"/>
<circle cx="310.8" cy="294.6" r="0.60"/>
<circle cx="328.4" cy="253.3" r="0.60"/>
<circle cx="343.2" cy="258.5" r="0.45"/>
<circle cx="307.3" cy="302.8" r="0.55"/>
<circle cx="356.5" cy="299.3" r="0.85"/>
<circle cx="363.1" cy="265.7" r="0.85"/>
<circle cx="365.4" cy="302.2" r="0.85"/>
<circle cx="327.2" cy="265.6" r="0.55"/>
<circle cx="315.2" cy="309.4" r="0.70"/>
<circle cx="357.2" cy="312.2" r="0.85"/>
<circle cx="325.2" cy="311.6" r="0.85"/>
<circle cx="368.4" cy="288.8" r="0.60"/>
<circle cx="305.0" cy="281.9" r="0.55"/>
<circle cx="320.4" cy="266.5" r="0.45"/>
<circle cx="303.5" cy="279.5" r="0.85"/>
<circle cx="360.4" cy="288.1" r="0.55"/>
<circle cx="323.8" cy="308.0" r="0.45"/>
<circle cx="304.3" cy="277.2" r="0.45"/>
<circle cx="306.5" cy="290.7" r="0.70"/>
<circle cx="360.2" cy="281.5" r="0.45"/>
<circle cx="357.4" cy="270.0" r="0.85"/>
<circle cx="326.8" cy="316.3" r="0.55"/>
<circle cx="369.3" cy="291.5" r="0.45"/>
<circle cx="304.5" cy="283.1" r="0.85"/>
<circle cx="357.5" cy="266.6" r="0.85"/>
<circle cx="327.1" cy="259.2" r="0.55"/>
<circle cx="364.4" cy="307.2" r="0.55"/>
<circle cx="328.8" cy="263.4" r="0.45"/>
<circle cx="308.0" cy="298.9" r="0.45"/>
<circle cx="359.7" cy="311.1" r="0.60"/>
<circle cx="304.4" cy="287.4" r="0.70"/>
<circle cx="367.1" cy="274.5" r="0.55"/>
<circle cx="352.5" cy="265.4" r="0.60"/>
<circle cx="315.0" cy="300.6" r="0.60"/>
<circle cx="322.1" cy="316.6" r="0.55"/>
<circle cx="356.9" cy="313.9" r="0.55"/>
<circle cx="360.9" cy="268.2" r="0.60"/>
<circle cx="318.5" cy="270.7" r="0.85"/>
<circle cx="315.5" cy="309.1" r="0.60"/>
<circle cx="311.2" cy="311.1" r="0.55"/>
<circle cx="354.5" cy="255.6" r="0.55"/>
<circle cx="343.3" cy="262.7" r="0.45"/>
<circle cx="302.8" cy="283.3" r="0.55"/>
<circle cx="305.4" cy="296.8" r="0.45"/>
<circle cx="303.2" cy="283.6" r="0.70"/>
<circle cx="358.4" cy="313.7" r="0.60"/>
<circle cx="317.8" cy="262.5" r="0.45"/>
<circle cx="306.4" cy="291.2" r="0.45"/>
<circle cx="323.4" cy="315.1" r="0.45"/>
<circle cx="361.0" cy="302.8" r="0.70"/>
<circle cx="326.3" cy="253.4" r="0.85"/>
<circle cx="359.0" cy="294.2" r="0.85"/>
<circle cx="356.6" cy="266.8" r="0.70"/>
<circle cx="363.5" cy="272.6" r="0.85"/>
<circle cx="310.5" cy="312.1" r="0.85"/>
<circle cx="326.9" cy="262.9" r="0.55"/>
<circle cx="360.2" cy="265.2" r="0.55"/>
<circle cx="311.3" cy="294.0" r="0.55"/>
<circle cx="361.6" cy="304.6" r="0.45"/>
<circle cx="320.4" cy="268.8" r="0.70"/>
<circle cx="356.2" cy="259.2" r="0.55"/>
<circle cx="317.6" cy="274.2" r="0.60"/>
<circle cx="359.3" cy="266.2" r="0.85"/>
<circle cx="314.9" cy="287.8" r="0.45"/>
<circle cx="318.9" cy="267.0" r="1.33" opacity="0.28"/>
<circle cx="306.8" cy="292.3" r="0.85" opacity="0.28"/>
<circle cx="314.9" cy="277.8" r="1.14" opacity="0.28"/>
<circle cx="303.2" cy="279.1" r="1.14" opacity="0.28"/>
<circle cx="317.7" cy="306.8" r="1.04" opacity="0.28"/>
<circle cx="324.4" cy="253.8" r="1.33" opacity="0.28"/>
<circle cx="365.9" cy="278.9" r="1.33" opacity="0.28"/>
<circle cx="310.0" cy="300.2" r="0.85" opacity="0.28"/>
<circle cx="329.7" cy="251.8" r="1.14" opacity="0.28"/>
<circle cx="306.5" cy="300.2" r="1.61" opacity="0.28"/>
<circle cx="314.8" cy="271.8" r="0.85" opacity="0.28"/>
<circle cx="330.1" cy="252.4" r="1.04" opacity="0.28"/>
<circle cx="323.7" cy="261.9" r="0.85" opacity="0.28"/>
<circle cx="313.8" cy="285.6" r="1.61" opacity="0.28"/>
<circle cx="319.4" cy="270.3" r="1.14" opacity="0.28"/>
<circle cx="322.6" cy="258.0" r="1.04" opacity="0.28"/>
<circle cx="359.3" cy="262.6" r="1.61" opacity="0.28"/>
<circle cx="332.5" cy="262.6" r="1.04" opacity="0.28"/>
<circle cx="359.4" cy="289.3" r="1.33" opacity="0.28"/>
<circle cx="315.1" cy="262.8" r="1.04" opacity="0.28"/>
<circle cx="305.3" cy="289.5" r="1.04" opacity="0.28"/>
<circle cx="354.6" cy="260.2" r="1.04" opacity="0.28"/>
<circle cx="321.8" cy="263.3" r="1.04" opacity="0.28"/>
<circle cx="310.8" cy="311.4" r="1.04" opacity="0.28"/>
<circle cx="361.7" cy="297.0" r="1.33" opacity="0.28"/>
<circle cx="350.8" cy="259.5" r="0.85" opacity="0.28"/>
<circle cx="311.9" cy="279.3" r="1.04" opacity="0.28"/>
<circle cx="364.7" cy="303.2" r="1.61" opacity="0.28"/>
<circle cx="353.2" cy="270.1" r="1.14" opacity="0.28"/>
<circle cx="311.2" cy="303.4" r="1.04" opacity="0.28"/>
<circle cx="306.9" cy="280.6" r="1.04" opacity="0.28"/>
<circle cx="308.5" cy="305.3" r="0.85" opacity="0.28"/>
<circle cx="348.7" cy="263.3" r="1.61" opacity="0.28"/>
<circle cx="306.9" cy="282.0" r="1.14" opacity="0.28"/>
<circle cx="320.1" cy="309.7" r="1.04" opacity="0.28"/>
<circle cx="342.9" cy="255.8" r="0.85" opacity="0.28"/>
<circle cx="325.5" cy="313.2" r="1.14" opacity="0.28"/>
<circle cx="354.9" cy="261.2" r="1.14" opacity="0.28"/>
<circle cx="359.9" cy="298.2" r="1.33" opacity="0.28"/>
<circle cx="307.1" cy="286.5" r="1.04" opacity="0.28"/>
<circle cx="307.2" cy="293.0" r="1.04" opacity="0.28"/>
<circle cx="305.6" cy="298.5" r="1.04" opacity="0.28"/>
<circle cx="322.5" cy="266.8" r="0.85" opacity="0.28"/>
<circle cx="308.7" cy="280.8" r="1.04" opacity="0.28"/>
<circle cx="342.1" cy="251.9" r="1.14" opacity="0.28"/>
<circle cx="327.2" cy="262.4" r="1.33" opacity="0.28"/>
<circle cx="367.2" cy="298.4" r="1.61" opacity="0.28"/>
<circle cx="317.0" cy="300.0" r="1.04" opacity="0.28"/>
<circle cx="308.1" cy="287.7" r="0.85" opacity="0.28"/>
<circle cx="306.2" cy="288.3" r="1.04" opacity="0.28"/>
<circle cx="318.0" cy="301.7" r="1.61" opacity="0.28"/>
<circle cx="360.3" cy="272.3" r="1.33" opacity="0.28"/>
<circle cx="343.8" cy="261.4" r="1.14" opacity="0.28"/>
<circle cx="369.6" cy="277.0" r="1.33" opacity="0.28"/>
<circle cx="311.0" cy="283.8" r="1.04" opacity="0.28"/>
<circle cx="311.2" cy="272.4" r="1.04" opacity="0.28"/>
<circle cx="315.1" cy="311.9" r="1.14" opacity="0.28"/>
<circle cx="302.8" cy="284.7" r="1.14" opacity="0.28"/>
<circle cx="367.2" cy="300.1" r="0.85" opacity="0.28"/>
<circle cx="314.7" cy="291.5" r="1.14" opacity="0.28"/>
<circle cx="312.0" cy="314.7" r="1.33" opacity="0.28"/>
<circle cx="310.0" cy="305.3" r="1.14" opacity="0.28"/>
<circle cx="367.0" cy="299.7" r="1.61" opacity="0.28"/>
<circle cx="312.2" cy="275.2" r="1.61" opacity="0.28"/>
<circle cx="322.1" cy="314.3" r="1.61" opacity="0.28"/>
<circle cx="359.4" cy="300.0" r="1.04" opacity="0.28"/>
<circle cx="349.1" cy="310.5" r="1.33" opacity="0.28"/>
<circle cx="308.2" cy="304.2" r="1.33" opacity="0.28"/>
<circle cx="310.8" cy="286.1" r="0.85" opacity="0.28"/>
<circle cx="308.9" cy="295.4" r="0.85" opacity="0.28"/>
<circle cx="364.8" cy="302.8" r="1.61" opacity="0.28"/>
<circle cx="314.0" cy="305.5" r="1.04" opacity="0.28"/>
<circle cx="350.0" cy="315.9" r="1.61" opacity="0.28"/>
<circle cx="349.3" cy="258.2" r="1.14" opacity="0.28"/>
<circle cx="349.3" cy="254.2" r="1.61" opacity="0.28"/>
<circle cx="324.5" cy="267.1" r="1.14" opacity="0.28"/>
<circle cx="367.1" cy="282.9" r="1.14" opacity="0.28"/>
<circle cx="308.8" cy="274.6" r="1.14" opacity="0.28"/>
<circle cx="355.6" cy="309.6" r="1.61" opacity="0.28"/>
<circle cx="324.1" cy="258.3" r="1.14" opacity="0.28"/>
<circle cx="310.7" cy="289.0" r="1.61" opacity="0.28"/>
<circle cx="312.8" cy="289.1" r="1.14" opacity="0.28"/>
<circle cx="346.4" cy="265.4" r="1.61" opacity="0.28"/>
<circle cx="330.2" cy="254.7" r="1.33" opacity="0.28"/>
<circle cx="336.7" cy="252.3" r="1.61" opacity="0.28"/>
<circle cx="325.7" cy="258.5" r="1.61" opacity="0.28"/>
<circle cx="350.4" cy="310.7" r="1.61" opacity="0.28"/>
<circle cx="313.8" cy="270.0" r="1.33" opacity="0.28"/>
<circle cx="314.6" cy="270.8" r="1.33" opacity="0.28"/>
<circle cx="358.7" cy="281.1" r="0.85" opacity="0.28"/>
<circle cx="315.1" cy="310.8" r="1.33" opacity="0.28"/>
<circle cx="311.8" cy="309.7" r="0.85" opacity="0.28"/>
<circle cx="311.3" cy="300.5" r="1.33" opacity="0.28"/>
<circle cx="330.5" cy="254.2" r="1.33" opacity="0.28"/>
<circle cx="361.2" cy="287.5" r="1.14" opacity="0.28"/>
<circle cx="361.7" cy="297.4" r="1.14" opacity="0.28"/>
<circle cx="308.7" cy="276.5" r="1.14" opacity="0.28"/>
<circle cx="352.7" cy="258.8" r="1.61" opacity="0.28"/>
<circle cx="321.4" cy="263.5" r="0.85" opacity="0.28"/>
<circle cx="315.8" cy="298.6" r="1.04" opacity="0.28"/>
<circle cx="311.2" cy="294.7" r="1.04" opacity="0.28"/>
<circle cx="366.5" cy="299.5" r="1.33" opacity="0.28"/>
<circle cx="305.0" cy="290.0" r="1.61" opacity="0.28"/>
<circle cx="320.2" cy="263.5" r="1.04" opacity="0.28"/>
<circle cx="338.3" cy="257.3" r="1.14" opacity="0.28"/>
<circle cx="321.8" cy="312.7" r="1.14" opacity="0.28"/>
<circle cx="320.8" cy="315.2" r="1.61" opacity="0.28"/>
<circle cx="339.7" cy="251.1" r="1.04" opacity="0.28"/>
<circle cx="331.4" cy="253.3" r="1.14" opacity="0.28"/>
<circle cx="343.6" cy="264.4" r="0.85" opacity="0.28"/>
<circle cx="359.5" cy="314.4" r="1.14" opacity="0.28"/>
<circle cx="348.7" cy="266.1" r="1.33" opacity="0.28"/>
<circle cx="345.7" cy="262.0" r="1.61" opacity="0.28"/>
<circle cx="314.1" cy="276.4" r="1.14" opacity="0.28"/>
<circle cx="357.5" cy="302.7" r="1.04" opacity="0.28"/>
<circle cx="357.2" cy="262.7" r="1.14" opacity="0.28"/>
<circle cx="355.3" cy="313.5" r="1.61" opacity="0.28"/>
<circle cx="363.9" cy="298.1" r="1.61" opacity="0.28"/>
<circle cx="312.1" cy="292.0" r="1.14" opacity="0.28"/>
<circle cx="313.0" cy="273.2" r="0.85" opacity="0.28"/>
<circle cx="359.5" cy="279.9" r="0.85" opacity="0.28"/>
<circle cx="336.0" cy="254.6" r="1.14" opacity="0.28"/>
<circle cx="358.8" cy="281.4" r="1.04" opacity="0.28"/>
<circle cx="362.9" cy="284.9" r="1.14" opacity="0.28"/>
<circle cx="337.6" cy="263.2" r="1.14" opacity="0.28"/>
<circle cx="348.6" cy="312.8" r="1.04" opacity="0.28"/>
<circle cx="352.6" cy="313.3" r="1.61" opacity="0.28"/>
<circle cx="358.2" cy="280.5" r="0.85" opacity="0.28"/>
<circle cx="315.1" cy="288.0" r="0.85" opacity="0.28"/>
<circle cx="363.5" cy="272.0" r="1.61" opacity="0.28"/>
</g></g>
<path d="M312.09999999999997,316.29999999999995 L324.6,312.0 M361.7,316.29999999999995 L349.19999999999993,312.0" stroke="#111" stroke-width="1.21" fill="none"/>
<path d="M336.90,262.70 L335.44,262.75 L333.99,262.89 L332.55,263.13 L331.13,263.46 L329.73,263.88 L328.36,264.40 L327.03,265.00 L325.75,265.69 L324.51,266.46 L323.32,267.31 L322.19,268.24 L321.13,269.24 L320.13,270.30 L319.20,271.43 L318.35,272.62 L317.58,273.86 L316.90,275.15 L316.29,276.48 L315.78,277.84 L315.36,279.24 L315.03,280.66 L314.79,282.10 L314.65,283.55 L314.60,285.01 L314.65,286.47 L314.79,287.92 L315.03,289.36 L315.36,290.79 L315.79,292.18 L316.30,293.55 L325.00,314.50 L325.37,315.18 L325.79,315.73 L326.29,316.14 L326.87,316.42 L327.57,316.55 L328.40,316.55 L329.73,316.27 L331.11,315.98 L332.54,315.72 L333.99,315.50 L335.44,315.35 L336.90,315.30 L338.36,315.35 L339.81,315.50 L341.26,315.72 L342.69,315.98 L344.07,316.27 L345.40,316.55 L346.23,316.55 L346.93,316.42 L347.51,316.14 L348.01,315.73 L348.43,315.18 L348.80,314.50 L357.50,293.55 L358.01,292.18 L358.44,290.79 L358.77,289.36 L359.01,287.92 L359.15,286.47 L359.20,285.01 L359.15,283.55 L359.01,282.10 L358.77,280.66 L358.44,279.24 L358.02,277.84 L357.51,276.48 L356.90,275.15 L356.22,273.86 L355.45,272.62 L354.60,271.43 L353.67,270.30 L352.67,269.24 L351.61,268.24 L350.48,267.31 L349.29,266.46 L348.05,265.69 L346.77,265.00 L345.44,264.40 L344.07,263.88 L342.67,263.46 L341.25,263.13 L339.81,262.89 L338.36,262.75 L336.90,262.70 Z" fill="#fff" stroke="#0a0a0a" stroke-width="2.2" stroke-linejoin="round"/>
<path d="M312.40,316.40 L312.72,317.23 L313.05,318.06 L313.34,318.92 L313.55,319.80 L313.63,320.72 L313.53,321.69 L313.20,322.71 L312.60,323.80 L311.36,325.01 L310.12,326.31 L308.90,327.72 L307.71,329.23 L306.54,330.85 L305.43,332.60 L304.37,334.47 L303.38,336.48 L302.46,338.62 L301.63,340.90 L300.90,343.34 L300.28,345.93 L299.78,348.69 L299.41,351.62 L299.18,354.72 L299.10,358.00 L299.10,413.90 L299.10,413.90 L299.23,415.54 L299.61,417.14 L300.24,418.67 L301.11,420.07 L302.18,421.32 L303.43,422.39 L304.83,423.26 L306.36,423.89 L307.96,424.27 L309.60,424.40 L311.24,424.27 L312.84,423.89 L314.37,423.26 L315.77,422.39 L317.02,421.32 L318.09,420.07 L318.96,418.67 L319.59,417.14 L319.97,415.54 L320.10,413.90 L320.10,400.80 L331.05,389.85 L331.58,389.20 L331.94,388.44 L332.13,387.62 L332.13,386.78 L331.94,385.96 L331.58,385.20 L331.05,384.55 L330.40,384.02 L329.64,383.66 L328.82,383.47 L327.98,383.47 L327.16,383.66 L326.40,384.02 L325.75,384.55 L320.10,390.20 L320.10,370.50 L331.05,359.55 L331.58,358.90 L331.94,358.14 L332.13,357.32 L332.13,356.48 L331.94,355.66 L331.58,354.90 L331.05,354.25 L330.40,353.72 L329.64,353.36 L328.82,353.17 L327.98,353.17 L327.16,353.36 L326.40,353.72 L325.75,354.25 L320.10,359.90 L320.10,353.50 L320.10,353.50 L320.18,351.87 L320.42,350.26 L320.81,348.68 L321.36,347.15 L322.06,345.67 L322.90,344.28 L323.87,342.97 L324.96,341.76 L326.17,340.67 L327.48,339.70 L328.87,338.86 L330.35,338.16 L331.88,337.61 L333.46,337.22 L335.07,336.98 L336.70,336.90 L338.33,336.98 L339.94,337.22 L341.52,337.61 L343.05,338.16 L344.53,338.86 L345.92,339.70 L347.23,340.67 L348.44,341.76 L349.53,342.97 L350.50,344.28 L351.34,345.67 L352.04,347.15 L352.59,348.68 L352.98,350.26 L353.22,351.87 L353.30,353.50 L353.30,353.50 L353.30,359.90 L347.25,354.25 L346.60,353.72 L345.84,353.36 L345.02,353.17 L344.18,353.17 L343.36,353.36 L342.60,353.72 L341.95,354.25 L341.42,354.90 L341.06,355.66 L340.87,356.48 L340.87,357.32 L341.06,358.14 L341.42,358.90 L341.95,359.55 L353.30,370.90 L353.30,390.20 L347.25,384.55 L346.60,384.02 L345.84,383.66 L345.02,383.47 L344.18,383.47 L343.36,383.66 L342.60,384.02 L341.95,384.55 L341.42,385.20 L341.06,385.96 L340.87,386.78 L340.87,387.62 L341.06,388.44 L341.42,389.20 L341.95,389.85 L353.30,401.20 L353.30,413.70 L353.43,415.37 L353.82,417.01 L354.47,418.56 L355.34,419.99 L356.43,421.27 L357.71,422.36 L359.14,423.23 L360.69,423.88 L362.33,424.27 L364.00,424.40 L365.67,424.27 L367.31,423.88 L368.86,423.23 L370.29,422.36 L371.57,421.27 L372.66,419.99 L373.53,418.56 L374.18,417.01 L374.57,415.37 L374.70,413.70 L374.70,413.70 L374.70,358.00 L374.62,354.72 L374.39,351.62 L374.02,348.69 L373.52,345.93 L372.90,343.34 L372.17,340.90 L371.34,338.62 L370.43,336.48 L369.43,334.47 L368.37,332.60 L367.26,330.85 L366.09,329.23 L364.90,327.72 L363.67,326.31 L362.44,325.01 L361.20,323.80 L360.60,322.71 L360.27,321.69 L360.17,320.72 L360.25,319.80 L360.46,318.92 L360.75,318.06 L361.08,317.23 L361.40,316.40 L368.62,296.28 L369.13,294.75 L369.56,293.20 L369.92,291.62 L370.21,290.04 L370.41,288.44 L370.54,286.83 L370.60,285.22 L370.58,283.60 L370.47,281.99 L370.30,280.39 L370.04,278.79 L369.71,277.22 L369.31,275.65 L368.83,274.11 L368.27,272.60 L367.65,271.11 L366.95,269.65 L366.19,268.23 L365.36,266.85 L364.46,265.51 L363.50,264.21 L362.48,262.96 L361.40,261.76 L360.27,260.62 L359.08,259.53 L357.84,258.49 L356.55,257.52 L355.22,256.61 L353.84,255.77 L352.43,254.99 L350.98,254.28 L349.50,253.64 L347.99,253.08 L346.45,252.58 L344.89,252.16 L343.32,251.82 L341.72,251.55 L340.12,251.35 L338.51,251.24 L336.90,251.20 L335.29,251.24 L333.68,251.35 L332.08,251.55 L330.48,251.82 L328.91,252.16 L327.35,252.58 L325.81,253.08 L324.30,253.64 L322.82,254.28 L321.37,254.99 L319.96,255.77 L318.58,256.61 L317.25,257.52 L315.96,258.49 L314.72,259.53 L313.53,260.62 L312.40,261.76 L311.32,262.96 L310.30,264.21 L309.34,265.51 L308.44,266.85 L307.61,268.23 L306.85,269.65 L306.15,271.11 L305.53,272.60 L304.97,274.11 L304.49,275.65 L304.09,277.22 L303.76,278.79 L303.50,280.39 L303.33,281.99 L303.22,283.60 L303.20,285.22 L303.26,286.83 L303.39,288.44 L303.59,290.04 L303.88,291.62 L304.24,293.20 L304.67,294.75 L305.18,296.28 L312.40,316.40 Z" fill="none" stroke="#0a0a0a" stroke-width="2.2" stroke-linejoin="round"/>
<path d="M309.40,415.10 L309.40,354.10 L309.40,354.10 L309.48,351.96 L309.74,349.83 L310.15,347.73 L310.74,345.66 L311.48,343.65 L312.38,341.71 L313.42,339.84 L314.61,338.05 L315.94,336.37 L317.40,334.80 L318.97,333.34 L320.65,332.01 L322.44,330.82 L324.31,329.78 L326.25,328.88 L328.26,328.14 L330.33,327.55 L332.43,327.14 L334.56,326.88 L336.70,326.80 L338.84,326.88 L340.97,327.14 L343.07,327.55 L345.14,328.14 L347.15,328.88 L349.09,329.78 L350.96,330.82 L352.75,332.01 L354.43,333.34 L356.00,334.80 L357.46,336.37 L358.79,338.05 L359.98,339.84 L361.02,341.71 L361.92,343.65 L362.66,345.66 L363.25,347.73 L363.66,349.83 L363.92,351.96 L364.00,354.10 L364.00,414.20" fill="none" stroke="#0a0a0a" stroke-width="3.5" stroke-linecap="butt" stroke-linejoin="round"/>
<circle cx="364.0" cy="414.2" r="1.75" fill="#0a0a0a"/>
<line x1="321.5" y1="359.9" x2="326.6" y2="354.9" stroke="#0a0a0a" stroke-width="1.65" stroke-linecap="round"/>
<line x1="321.5" y1="390.2" x2="326.6" y2="385.2" stroke="#0a0a0a" stroke-width="1.65" stroke-linecap="round"/>
<line x1="232" y1="478.5" x2="303" y2="418.9" stroke="#1e1e1e" stroke-width="1.15"/>
<line x1="302.2" y1="419.5" x2="309.6" y2="414.9" stroke="#0a0a0a" stroke-width="2.6"/>
</g>
<g filter="url(#b03)"><g transform="translate(-96.9,-105.2) scale(0.499,0.495)">
<clipPath id="ssil"><path d="M312.40,316.40 L312.72,317.23 L313.05,318.06 L313.34,318.92 L313.55,319.80 L313.63,320.72 L313.53,321.69 L313.20,322.71 L312.60,323.80 L311.36,325.01 L310.12,326.31 L308.90,327.72 L307.71,329.23 L306.54,330.85 L305.43,332.60 L304.37,334.47 L303.38,336.48 L302.46,338.62 L301.63,340.90 L300.90,343.34 L300.28,345.93 L299.78,348.69 L299.41,351.62 L299.18,354.72 L299.10,358.00 L299.10,413.90 L299.10,413.90 L299.23,415.54 L299.61,417.14 L300.24,418.67 L301.11,420.07 L302.18,421.32 L303.43,422.39 L304.83,423.26 L306.36,423.89 L307.96,424.27 L309.60,424.40 L311.24,424.27 L312.84,423.89 L314.37,423.26 L315.77,422.39 L317.02,421.32 L318.09,420.07 L318.96,418.67 L319.59,417.14 L319.97,415.54 L320.10,413.90 L320.10,400.80 L331.05,389.85 L331.58,389.20 L331.94,388.44 L332.13,387.62 L332.13,386.78 L331.94,385.96 L331.58,385.20 L331.05,384.55 L330.40,384.02 L329.64,383.66 L328.82,383.47 L327.98,383.47 L327.16,383.66 L326.40,384.02 L325.75,384.55 L320.10,390.20 L320.10,370.50 L331.05,359.55 L331.58,358.90 L331.94,358.14 L332.13,357.32 L332.13,356.48 L331.94,355.66 L331.58,354.90 L331.05,354.25 L330.40,353.72 L329.64,353.36 L328.82,353.17 L327.98,353.17 L327.16,353.36 L326.40,353.72 L325.75,354.25 L320.10,359.90 L320.10,353.50 L320.10,353.50 L320.18,351.87 L320.42,350.26 L320.81,348.68 L321.36,347.15 L322.06,345.67 L322.90,344.28 L323.87,342.97 L324.96,341.76 L326.17,340.67 L327.48,339.70 L328.87,338.86 L330.35,338.16 L331.88,337.61 L333.46,337.22 L335.07,336.98 L336.70,336.90 L338.33,336.98 L339.94,337.22 L341.52,337.61 L343.05,338.16 L344.53,338.86 L345.92,339.70 L347.23,340.67 L348.44,341.76 L349.53,342.97 L350.50,344.28 L351.34,345.67 L352.04,347.15 L352.59,348.68 L352.98,350.26 L353.22,351.87 L353.30,353.50 L353.30,353.50 L353.30,359.90 L347.25,354.25 L346.60,353.72 L345.84,353.36 L345.02,353.17 L344.18,353.17 L343.36,353.36 L342.60,353.72 L341.95,354.25 L341.42,354.90 L341.06,355.66 L340.87,356.48 L340.87,357.32 L341.06,358.14 L341.42,358.90 L341.95,359.55 L353.30,370.90 L353.30,390.20 L347.25,384.55 L346.60,384.02 L345.84,383.66 L345.02,383.47 L344.18,383.47 L343.36,383.66 L342.60,384.02 L341.95,384.55 L341.42,385.20 L341.06,385.96 L340.87,386.78 L340.87,387.62 L341.06,388.44 L341.42,389.20 L341.95,389.85 L353.30,401.20 L353.30,413.70 L353.43,415.37 L353.82,417.01 L354.47,418.56 L355.34,419.99 L356.43,421.27 L357.71,422.36 L359.14,423.23 L360.69,423.88 L362.33,424.27 L364.00,424.40 L365.67,424.27 L367.31,423.88 L368.86,423.23 L370.29,422.36 L371.57,421.27 L372.66,419.99 L373.53,418.56 L374.18,417.01 L374.57,415.37 L374.70,413.70 L374.70,413.70 L374.70,358.00 L374.62,354.72 L374.39,351.62 L374.02,348.69 L373.52,345.93 L372.90,343.34 L372.17,340.90 L371.34,338.62 L370.43,336.48 L369.43,334.47 L368.37,332.60 L367.26,330.85 L366.09,329.23 L364.90,327.72 L363.67,326.31 L362.44,325.01 L361.20,323.80 L360.60,322.71 L360.27,321.69 L360.17,320.72 L360.25,319.80 L360.46,318.92 L360.75,318.06 L361.08,317.23 L361.40,316.40 L368.62,296.28 L369.13,294.75 L369.56,293.20 L369.92,291.62 L370.21,290.04 L370.41,288.44 L370.54,286.83 L370.60,285.22 L370.58,283.60 L370.47,281.99 L370.30,280.39 L370.04,278.79 L369.71,277.22 L369.31,275.65 L368.83,274.11 L368.27,272.60 L367.65,271.11 L366.95,269.65 L366.19,268.23 L365.36,266.85 L364.46,265.51 L363.50,264.21 L362.48,262.96 L361.40,261.76 L360.27,260.62 L359.08,259.53 L357.84,258.49 L356.55,257.52 L355.22,256.61 L353.84,255.77 L352.43,254.99 L350.98,254.28 L349.50,253.64 L347.99,253.08 L346.45,252.58 L344.89,252.16 L343.32,251.82 L341.72,251.55 L340.12,251.35 L338.51,251.24 L336.90,251.20 L335.29,251.24 L333.68,251.35 L332.08,251.55 L330.48,251.82 L328.91,252.16 L327.35,252.58 L325.81,253.08 L324.30,253.64 L322.82,254.28 L321.37,254.99 L319.96,255.77 L318.58,256.61 L317.25,257.52 L315.96,258.49 L314.72,259.53 L313.53,260.62 L312.40,261.76 L311.32,262.96 L310.30,264.21 L309.34,265.51 L308.44,266.85 L307.61,268.23 L306.85,269.65 L306.15,271.11 L305.53,272.60 L304.97,274.11 L304.49,275.65 L304.09,277.22 L303.76,278.79 L303.50,280.39 L303.33,281.99 L303.22,283.60 L303.20,285.22 L303.26,286.83 L303.39,288.44 L303.59,290.04 L303.88,291.62 L304.24,293.20 L304.67,294.75 L305.18,296.28 L312.40,316.40 Z"/></clipPath>
<clipPath id="slow"><path d="M280.00,316.30 L312.10,316.30 L323.60,312.30 L350.20,312.30 L361.70,316.30 L400.00,316.30 L400.00,440.00 L280.00,440.00 Z"/></clipPath>
<clipPath id="sup"><path d="M280.00,316.30 L312.10,316.30 L323.60,312.30 L350.20,312.30 L361.70,316.30 L400.00,316.30 L400.00,240.00 L280.00,240.00 Z"/></clipPath>
<path d="M312.40,316.40 L312.72,317.23 L313.05,318.06 L313.34,318.92 L313.55,319.80 L313.63,320.72 L313.53,321.69 L313.20,322.71 L312.60,323.80 L311.36,325.01 L310.12,326.31 L308.90,327.72 L307.71,329.23 L306.54,330.85 L305.43,332.60 L304.37,334.47 L303.38,336.48 L302.46,338.62 L301.63,340.90 L300.90,343.34 L300.28,345.93 L299.78,348.69 L299.41,351.62 L299.18,354.72 L299.10,358.00 L299.10,413.90 L299.10,413.90 L299.23,415.54 L299.61,417.14 L300.24,418.67 L301.11,420.07 L302.18,421.32 L303.43,422.39 L304.83,423.26 L306.36,423.89 L307.96,424.27 L309.60,424.40 L311.24,424.27 L312.84,423.89 L314.37,423.26 L315.77,422.39 L317.02,421.32 L318.09,420.07 L318.96,418.67 L319.59,417.14 L319.97,415.54 L320.10,413.90 L320.10,400.80 L331.05,389.85 L331.58,389.20 L331.94,388.44 L332.13,387.62 L332.13,386.78 L331.94,385.96 L331.58,385.20 L331.05,384.55 L330.40,384.02 L329.64,383.66 L328.82,383.47 L327.98,383.47 L327.16,383.66 L326.40,384.02 L325.75,384.55 L320.10,390.20 L320.10,370.50 L331.05,359.55 L331.58,358.90 L331.94,358.14 L332.13,357.32 L332.13,356.48 L331.94,355.66 L331.58,354.90 L331.05,354.25 L330.40,353.72 L329.64,353.36 L328.82,353.17 L327.98,353.17 L327.16,353.36 L326.40,353.72 L325.75,354.25 L320.10,359.90 L320.10,353.50 L320.10,353.50 L320.18,351.87 L320.42,350.26 L320.81,348.68 L321.36,347.15 L322.06,345.67 L322.90,344.28 L323.87,342.97 L324.96,341.76 L326.17,340.67 L327.48,339.70 L328.87,338.86 L330.35,338.16 L331.88,337.61 L333.46,337.22 L335.07,336.98 L336.70,336.90 L338.33,336.98 L339.94,337.22 L341.52,337.61 L343.05,338.16 L344.53,338.86 L345.92,339.70 L347.23,340.67 L348.44,341.76 L349.53,342.97 L350.50,344.28 L351.34,345.67 L352.04,347.15 L352.59,348.68 L352.98,350.26 L353.22,351.87 L353.30,353.50 L353.30,353.50 L353.30,359.90 L347.25,354.25 L346.60,353.72 L345.84,353.36 L345.02,353.17 L344.18,353.17 L343.36,353.36 L342.60,353.72 L341.95,354.25 L341.42,354.90 L341.06,355.66 L340.87,356.48 L340.87,357.32 L341.06,358.14 L341.42,358.90 L341.95,359.55 L353.30,370.90 L353.30,390.20 L347.25,384.55 L346.60,384.02 L345.84,383.66 L345.02,383.47 L344.18,383.47 L343.36,383.66 L342.60,384.02 L341.95,384.55 L341.42,385.20 L341.06,385.96 L340.87,386.78 L340.87,387.62 L341.06,388.44 L341.42,389.20 L341.95,389.85 L353.30,401.20 L353.30,413.70 L353.43,415.37 L353.82,417.01 L354.47,418.56 L355.34,419.99 L356.43,421.27 L357.71,422.36 L359.14,423.23 L360.69,423.88 L362.33,424.27 L364.00,424.40 L365.67,424.27 L367.31,423.88 L368.86,423.23 L370.29,422.36 L371.57,421.27 L372.66,419.99 L373.53,418.56 L374.18,417.01 L374.57,415.37 L374.70,413.70 L374.70,413.70 L374.70,358.00 L374.62,354.72 L374.39,351.62 L374.02,348.69 L373.52,345.93 L372.90,343.34 L372.17,340.90 L371.34,338.62 L370.43,336.48 L369.43,334.47 L368.37,332.60 L367.26,330.85 L366.09,329.23 L364.90,327.72 L363.67,326.31 L362.44,325.01 L361.20,323.80 L360.60,322.71 L360.27,321.69 L360.17,320.72 L360.25,319.80 L360.46,318.92 L360.75,318.06 L361.08,317.23 L361.40,316.40 L368.62,296.28 L369.13,294.75 L369.56,293.20 L369.92,291.62 L370.21,290.04 L370.41,288.44 L370.54,286.83 L370.60,285.22 L370.58,283.60 L370.47,281.99 L370.30,280.39 L370.04,278.79 L369.71,277.22 L369.31,275.65 L368.83,274.11 L368.27,272.60 L367.65,271.11 L366.95,269.65 L366.19,268.23 L365.36,266.85 L364.46,265.51 L363.50,264.21 L362.48,262.96 L361.40,261.76 L360.27,260.62 L359.08,259.53 L357.84,258.49 L356.55,257.52 L355.22,256.61 L353.84,255.77 L352.43,254.99 L350.98,254.28 L349.50,253.64 L347.99,253.08 L346.45,252.58 L344.89,252.16 L343.32,251.82 L341.72,251.55 L340.12,251.35 L338.51,251.24 L336.90,251.20 L335.29,251.24 L333.68,251.35 L332.08,251.55 L330.48,251.82 L328.91,252.16 L327.35,252.58 L325.81,253.08 L324.30,253.64 L322.82,254.28 L321.37,254.99 L319.96,255.77 L318.58,256.61 L317.25,257.52 L315.96,258.49 L314.72,259.53 L313.53,260.62 L312.40,261.76 L311.32,262.96 L310.30,264.21 L309.34,265.51 L308.44,266.85 L307.61,268.23 L306.85,269.65 L306.15,271.11 L305.53,272.60 L304.97,274.11 L304.49,275.65 L304.09,277.22 L303.76,278.79 L303.50,280.39 L303.33,281.99 L303.22,283.60 L303.20,285.22 L303.26,286.83 L303.39,288.44 L303.59,290.04 L303.88,291.62 L304.24,293.20 L304.67,294.75 L305.18,296.28 L312.40,316.40 Z" fill="#fff"/>
<g clip-path="url(#ssil)"><g clip-path="url(#slow)" stroke="#222" stroke-width="2.5">
<line x1="290" y1="145.3" x2="385" y2="50.3"/>
<line x1="290" y1="155.6" x2="385" y2="60.6"/>
<line x1="290" y1="165.9" x2="385" y2="70.9"/>
<line x1="290" y1="176.2" x2="385" y2="81.2"/>
<line x1="290" y1="186.5" x2="385" y2="91.5"/>
<line x1="290" y1="196.8" x2="385" y2="101.8"/>
<line x1="290" y1="207.1" x2="385" y2="112.1"/>
<line x1="290" y1="217.4" x2="385" y2="122.4"/>
<line x1="290" y1="227.7" x2="385" y2="132.7"/>
<line x1="290" y1="238.0" x2="385" y2="143.0"/>
<line x1="290" y1="248.3" x2="385" y2="153.3"/>
<line x1="290" y1="258.6" x2="385" y2="163.6"/>
<line x1="290" y1="268.9" x2="385" y2="173.9"/>
<line x1="290" y1="279.2" x2="385" y2="184.2"/>
<line x1="290" y1="289.5" x2="385" y2="194.5"/>
<line x1="290" y1="299.8" x2="385" y2="204.8"/>
<line x1="290" y1="310.1" x2="385" y2="215.1"/>
<line x1="290" y1="320.4" x2="385" y2="225.4"/>
<line x1="290" y1="330.7" x2="385" y2="235.7"/>
<line x1="290" y1="341.0" x2="385" y2="246.0"/>
<line x1="290" y1="351.3" x2="385" y2="256.3"/>
<line x1="290" y1="361.6" x2="385" y2="266.6"/>
<line x1="290" y1="371.9" x2="385" y2="276.9"/>
<line x1="290" y1="382.2" x2="385" y2="287.2"/>
<line x1="290" y1="392.5" x2="385" y2="297.5"/>
<line x1="290" y1="402.8" x2="385" y2="307.8"/>
<line x1="290" y1="413.1" x2="385" y2="318.1"/>
<line x1="290" y1="423.4" x2="385" y2="328.4"/>
<line x1="290" y1="433.7" x2="385" y2="338.7"/>
<line x1="290" y1="444.0" x2="385" y2="349.0"/>
<line x1="290" y1="454.3" x2="385" y2="359.3"/>
<line x1="290" y1="464.6" x2="385" y2="369.6"/>
<line x1="290" y1="474.9" x2="385" y2="379.9"/>
<line x1="290" y1="485.2" x2="385" y2="390.2"/>
<line x1="290" y1="495.5" x2="385" y2="400.5"/>
<line x1="290" y1="505.8" x2="385" y2="410.8"/>
<line x1="290" y1="516.1" x2="385" y2="421.1"/>
<line x1="290" y1="526.4" x2="385" y2="431.4"/>
<line x1="290" y1="536.7" x2="385" y2="441.7"/>
<line x1="290" y1="547.0" x2="385" y2="452.0"/>
<line x1="290" y1="557.3" x2="385" y2="462.3"/>
<line x1="290" y1="567.6" x2="385" y2="472.6"/>
<line x1="290" y1="577.9" x2="385" y2="482.9"/>
<line x1="290" y1="588.2" x2="385" y2="493.2"/>
<line x1="290" y1="598.5" x2="385" y2="503.5"/>
<line x1="290" y1="608.8" x2="385" y2="513.8"/>
</g></g>
<g clip-path="url(#ssil)"><g clip-path="url(#sup)" fill="#222">
<circle cx="368.4" cy="280.7" r="1.95"/>
<circle cx="359.5" cy="281.4" r="1.95"/>
<circle cx="322.5" cy="255.2" r="1.03"/>
<circle cx="314.5" cy="264.9" r="1.38"/>
<circle cx="362.2" cy="297.1" r="1.38"/>
<circle cx="315.8" cy="312.0" r="1.03"/>
<circle cx="329.4" cy="254.0" r="1.26"/>
<circle cx="357.6" cy="267.3" r="1.03"/>
<circle cx="310.0" cy="297.1" r="1.03"/>
<circle cx="313.1" cy="287.0" r="1.61"/>
<circle cx="342.7" cy="251.9" r="1.26"/>
<circle cx="315.8" cy="266.6" r="1.95"/>
<circle cx="311.4" cy="310.8" r="1.95"/>
<circle cx="318.5" cy="261.9" r="1.95"/>
<circle cx="314.5" cy="313.6" r="1.61"/>
<circle cx="352.1" cy="266.5" r="1.95"/>
<circle cx="309.4" cy="281.6" r="1.95"/>
<circle cx="333.0" cy="253.1" r="1.26"/>
<circle cx="310.2" cy="279.6" r="1.38"/>
<circle cx="343.2" cy="258.5" r="1.03"/>
<circle cx="368.3" cy="281.3" r="1.38"/>
<circle cx="351.9" cy="314.5" r="1.03"/>
<circle cx="344.3" cy="254.1" r="1.03"/>
<circle cx="354.1" cy="270.7" r="1.03"/>
<circle cx="305.6" cy="286.1" r="1.03"/>
<circle cx="366.6" cy="299.1" r="1.26"/>
<circle cx="358.7" cy="311.2" r="1.38"/>
<circle cx="306.3" cy="281.2" r="1.03"/>
<circle cx="364.5" cy="277.4" r="1.03"/>
<circle cx="363.9" cy="288.0" r="1.95"/>
<circle cx="324.4" cy="312.5" r="1.95"/>
<circle cx="357.7" cy="293.9" r="1.61"/>
<circle cx="315.0" cy="260.5" r="1.38"/>
<circle cx="366.0" cy="271.2" r="1.38"/>
<circle cx="314.7" cy="278.3" r="1.26"/>
<circle cx="365.1" cy="275.1" r="1.95"/>
<circle cx="310.0" cy="272.9" r="1.03"/>
<circle cx="352.6" cy="313.6" r="1.38"/>
<circle cx="361.5" cy="275.0" r="1.95"/>
<circle cx="362.1" cy="315.8" r="1.61"/>
<circle cx="330.0" cy="261.9" r="1.38"/>
<circle cx="317.6" cy="258.6" r="1.03"/>
<circle cx="308.1" cy="285.4" r="1.38"/>
<circle cx="314.8" cy="281.3" r="1.26"/>
<circle cx="339.6" cy="251.5" r="1.26"/>
<circle cx="309.6" cy="279.8" r="1.03"/>
<circle cx="365.1" cy="303.2" r="1.38"/>
<circle cx="315.2" cy="298.1" r="1.03"/>
<circle cx="315.8" cy="310.2" r="1.03"/>
<circle cx="358.5" cy="270.8" r="1.03"/>
<circle cx="325.8" cy="254.6" r="1.61"/>
<circle cx="320.4" cy="311.5" r="1.26"/>
<circle cx="359.2" cy="260.8" r="1.38"/>
<circle cx="350.8" cy="311.3" r="1.61"/>
<circle cx="311.0" cy="284.1" r="1.95"/>
<circle cx="362.2" cy="295.9" r="1.61"/>
<circle cx="341.6" cy="260.2" r="1.95"/>
<circle cx="362.4" cy="287.1" r="1.38"/>
<circle cx="349.7" cy="313.9" r="1.95"/>
<circle cx="315.4" cy="306.9" r="1.95"/>
<circle cx="314.9" cy="285.4" r="1.95"/>
<circle cx="339.8" cy="252.0" r="1.61"/>
<circle cx="312.3" cy="312.3" r="1.61"/>
<circle cx="335.0" cy="257.6" r="1.61"/>
<circle cx="368.1" cy="284.7" r="1.03"/>
<circle cx="314.2" cy="291.0" r="1.38"/>
<circle cx="309.6" cy="302.0" r="1.03"/>
<circle cx="353.5" cy="265.6" r="1.61"/>
<circle cx="307.8" cy="298.7" r="1.03"/>
<circle cx="363.0" cy="291.4" r="1.26"/>
<circle cx="351.9" cy="308.8" r="1.03"/>
<circle cx="339.2" cy="259.9" r="1.26"/>
<circle cx="363.9" cy="285.3" r="1.26"/>
<circle cx="317.2" cy="299.4" r="1.38"/>
<circle cx="366.8" cy="270.5" r="1.38"/>
<circle cx="357.6" cy="262.2" r="1.03"/>
<circle cx="309.9" cy="265.3" r="1.03"/>
<circle cx="361.6" cy="277.7" r="1.26"/>
<circle cx="314.8" cy="291.7" r="1.03"/>
<circle cx="307.1" cy="287.8" r="1.38"/>
<circle cx="308.5" cy="283.4" r="1.38"/>
<circle cx="342.1" cy="259.0" r="1.26"/>
<circle cx="311.7" cy="268.3" r="1.03"/>
<circle cx="342.9" cy="258.1" r="1.61"/>
<circle cx="326.2" cy="263.3" r="1.38"/>
<circle cx="330.0" cy="262.3" r="1.26"/>
<circle cx="307.0" cy="302.9" r="1.38"/>
<circle cx="366.1" cy="303.5" r="1.61"/>
<circle cx="342.2" cy="262.0" r="1.95"/>
<circle cx="319.1" cy="311.0" r="1.26"/>
<circle cx="360.3" cy="276.6" r="1.38"/>
<circle cx="365.1" cy="296.2" r="1.61"/>
<circle cx="317.2" cy="313.2" r="1.38"/>
<circle cx="356.4" cy="315.6" r="1.03"/>
<circle cx="319.1" cy="267.7" r="1.38"/>
<circle cx="311.8" cy="281.1" r="1.26"/>
<circle cx="363.3" cy="285.9" r="1.95"/>
<circle cx="353.0" cy="269.1" r="1.03"/>
<circle cx="316.6" cy="297.9" r="1.38"/>
<circle cx="344.7" cy="256.8" r="1.95"/>
<circle cx="330.9" cy="257.0" r="1.03"/>
<circle cx="326.4" cy="259.5" r="1.38"/>
<circle cx="354.3" cy="265.2" r="1.03"/>
<circle cx="314.1" cy="267.9" r="1.26"/>
<circle cx="314.0" cy="265.9" r="1.26"/>
<circle cx="307.6" cy="285.8" r="1.03"/>
<circle cx="355.9" cy="311.1" r="1.26"/>
<circle cx="315.6" cy="272.4" r="1.26"/>
<circle cx="308.9" cy="304.0" r="1.95"/>
<circle cx="362.0" cy="301.3" r="1.61"/>
<circle cx="359.9" cy="274.1" r="1.95"/>
<circle cx="355.2" cy="311.6" r="1.61"/>
<circle cx="367.4" cy="290.1" r="1.38"/>
<circle cx="316.2" cy="293.7" r="1.38"/>
<circle cx="327.1" cy="257.0" r="1.61"/>
<circle cx="328.7" cy="262.3" r="1.95"/>
<circle cx="311.5" cy="289.2" r="1.26"/>
<circle cx="313.1" cy="300.6" r="1.38"/>
<circle cx="360.1" cy="264.0" r="1.03"/>
<circle cx="354.5" cy="310.1" r="1.03"/>
<circle cx="324.6" cy="258.3" r="1.61"/>
<circle cx="352.4" cy="311.2" r="1.61"/>
<circle cx="356.0" cy="316.0" r="1.38"/>
<circle cx="363.2" cy="303.8" r="1.03"/>
<circle cx="352.5" cy="303.6" r="1.61"/>
<circle cx="318.2" cy="260.0" r="1.61"/>
<circle cx="320.3" cy="309.3" r="1.61"/>
<circle cx="322.8" cy="256.8" r="1.26"/>
<circle cx="357.4" cy="261.2" r="1.03"/>
<circle cx="323.1" cy="262.4" r="1.38"/>
<circle cx="316.1" cy="265.0" r="1.61"/>
<circle cx="344.0" cy="264.2" r="1.26"/>
<circle cx="366.2" cy="276.4" r="1.38"/>
<circle cx="363.8" cy="276.2" r="1.26"/>
<circle cx="359.0" cy="297.5" r="1.95"/>
<circle cx="364.7" cy="277.3" r="1.38"/>
<circle cx="310.7" cy="310.8" r="1.95"/>
<circle cx="309.7" cy="299.4" r="1.95"/>
<circle cx="311.1" cy="301.4" r="1.03"/>
<circle cx="315.1" cy="311.3" r="1.26"/>
<circle cx="307.2" cy="281.6" r="1.61"/>
<circle cx="306.1" cy="299.9" r="1.95"/>
<circle cx="363.4" cy="269.6" r="1.26"/>
<circle cx="338.9" cy="259.7" r="1.38"/>
<circle cx="349.4" cy="253.6" r="1.03"/>
<circle cx="350.8" cy="256.2" r="1.61"/>
<circle cx="321.7" cy="256.7" r="1.03"/>
<circle cx="363.3" cy="306.4" r="1.26"/>
<circle cx="355.5" cy="313.9" r="1.61"/>
<circle cx="341.1" cy="254.9" r="1.26"/>
<circle cx="314.8" cy="298.7" r="1.38"/>
<circle cx="322.9" cy="267.6" r="1.61"/>
<circle cx="313.3" cy="276.4" r="1.61"/>
<circle cx="343.9" cy="255.1" r="1.26"/>
<circle cx="315.2" cy="259.1" r="1.61"/>
<circle cx="358.4" cy="265.7" r="1.95"/>
<circle cx="314.0" cy="269.9" r="1.61"/>
<circle cx="307.9" cy="274.7" r="1.95"/>
<circle cx="307.6" cy="297.5" r="1.38"/>
<circle cx="356.7" cy="310.4" r="1.95"/>
<circle cx="314.7" cy="312.5" r="1.26"/>
<circle cx="310.1" cy="281.5" r="1.61"/>
<circle cx="368.8" cy="273.6" r="1.61"/>
<circle cx="365.3" cy="279.8" r="1.26"/>
<circle cx="340.4" cy="253.3" r="1.38"/>
<circle cx="312.5" cy="299.7" r="1.38"/>
<circle cx="344.5" cy="257.3" r="1.03"/>
<circle cx="321.4" cy="310.0" r="1.26"/>
<circle cx="356.1" cy="273.7" r="1.26"/>
<circle cx="313.7" cy="286.3" r="1.03"/>
<circle cx="357.9" cy="312.2" r="1.26"/>
<circle cx="334.6" cy="258.7" r="1.61"/>
<circle cx="308.8" cy="276.6" r="1.38"/>
<circle cx="349.7" cy="258.8" r="1.61"/>
<circle cx="363.3" cy="276.8" r="1.61"/>
<circle cx="318.1" cy="306.4" r="1.26"/>
<circle cx="316.4" cy="299.8" r="1.95"/>
<circle cx="338.5" cy="257.8" r="1.95"/>
<circle cx="339.3" cy="258.6" r="1.95"/>
<circle cx="317.1" cy="269.8" r="1.61"/>
<circle cx="366.5" cy="269.9" r="1.61"/>
<circle cx="310.6" cy="301.8" r="1.61"/>
<circle cx="363.6" cy="296.1" r="1.03"/>
<circle cx="314.5" cy="306.0" r="1.38"/>
<circle cx="317.5" cy="313.6" r="1.03"/>
<circle cx="360.5" cy="314.4" r="1.38"/>
<circle cx="364.3" cy="297.5" r="1.26"/>
<circle cx="324.8" cy="314.1" r="1.61"/>
<circle cx="330.7" cy="260.5" r="1.38"/>
<circle cx="308.9" cy="296.0" r="1.38"/>
<circle cx="313.4" cy="265.0" r="1.38"/>
<circle cx="358.5" cy="274.3" r="1.95"/>
<circle cx="365.4" cy="289.1" r="1.26"/>
<circle cx="313.4" cy="264.4" r="1.26"/>
<circle cx="347.4" cy="255.1" r="1.03"/>
<circle cx="339.3" cy="252.1" r="1.95"/>
<circle cx="312.2" cy="316.2" r="1.26"/>
<circle cx="318.2" cy="268.0" r="1.95"/>
<circle cx="311.2" cy="310.1" r="1.95"/>
<circle cx="337.0" cy="261.2" r="1.95"/>
<circle cx="357.5" cy="310.9" r="1.38"/>
<circle cx="362.6" cy="295.5" r="1.95"/>
<circle cx="308.3" cy="278.6" r="1.61"/>
<circle cx="363.1" cy="290.0" r="1.38"/>
<circle cx="367.1" cy="287.7" r="1.95"/>
<circle cx="346.1" cy="252.7" r="1.61"/>
<circle cx="312.7" cy="266.3" r="1.26"/>
<circle cx="310.0" cy="299.6" r="1.95"/>
<circle cx="317.8" cy="309.5" r="1.26"/>
<circle cx="306.8" cy="286.8" r="1.61"/>
<circle cx="331.4" cy="254.2" r="1.03"/>
<circle cx="321.9" cy="257.1" r="1.26"/>
<circle cx="331.0" cy="254.8" r="1.26"/>
<circle cx="348.1" cy="253.0" r="1.38"/>
<circle cx="313.1" cy="307.5" r="1.26"/>
<circle cx="315.9" cy="272.6" r="1.26"/>
<circle cx="358.7" cy="303.7" r="1.61"/>
<circle cx="315.1" cy="263.6" r="1.61"/>
<circle cx="313.4" cy="282.1" r="1.95"/>
<circle cx="328.3" cy="253.9" r="1.38"/>
<circle cx="368.3" cy="297.6" r="1.38"/>
<circle cx="353.9" cy="301.8" r="1.26"/>
<circle cx="356.7" cy="298.2" r="1.03"/>
<circle cx="328.4" cy="254.7" r="1.61"/>
<circle cx="338.4" cy="252.7" r="1.61"/>
<circle cx="313.9" cy="283.9" r="1.26"/>
<circle cx="310.1" cy="297.0" r="1.38"/>
<circle cx="361.8" cy="285.4" r="1.61"/>
<circle cx="364.1" cy="264.4" r="1.38"/>
<circle cx="310.4" cy="306.7" r="1.61"/>
<circle cx="349.6" cy="311.5" r="1.26"/>
<circle cx="309.0" cy="301.7" r="1.38"/>
<circle cx="306.7" cy="278.1" r="1.61"/>
<circle cx="352.0" cy="264.1" r="1.61"/>
<circle cx="314.9" cy="301.2" r="1.38"/>
<circle cx="349.2" cy="265.3" r="1.03"/>
<circle cx="355.0" cy="310.7" r="1.26"/>
<circle cx="363.1" cy="270.0" r="1.03"/>
<circle cx="362.7" cy="269.4" r="1.38"/>
<circle cx="360.3" cy="309.3" r="1.61"/>
<circle cx="352.3" cy="263.7" r="1.03"/>
<circle cx="320.4" cy="305.4" r="1.61"/>
<circle cx="326.7" cy="315.4" r="1.26"/>
<circle cx="319.1" cy="264.0" r="1.95"/>
<circle cx="311.8" cy="291.3" r="1.61"/>
<circle cx="359.6" cy="269.0" r="1.61"/>
<circle cx="318.4" cy="271.1" r="1.26"/>
<circle cx="367.9" cy="299.2" r="1.03"/>
<circle cx="365.5" cy="270.1" r="1.61"/>
<circle cx="313.6" cy="307.2" r="1.26"/>
<circle cx="362.4" cy="305.3" r="1.95"/>
<circle cx="309.3" cy="299.3" r="1.38"/>
<circle cx="317.1" cy="261.6" r="1.03"/>
<circle cx="358.5" cy="312.1" r="1.38"/>
<circle cx="359.2" cy="306.0" r="1.38"/>
<circle cx="316.6" cy="298.1" r="1.61"/>
<circle cx="356.6" cy="315.7" r="1.61"/>
<circle cx="349.9" cy="263.7" r="1.38"/>
<circle cx="359.2" cy="259.0" r="1.26"/>
<circle cx="361.7" cy="286.8" r="1.38"/>
<circle cx="365.2" cy="278.4" r="2.40" opacity="0.28"/>
<circle cx="341.9" cy="258.8" r="3.06" opacity="0.28"/>
<circle cx="320.3" cy="264.5" r="3.06" opacity="0.28"/>
<circle cx="314.9" cy="286.5" r="3.71" opacity="0.28"/>
<circle cx="366.1" cy="270.0" r="1.97" opacity="0.28"/>
<circle cx="310.3" cy="302.7" r="3.06" opacity="0.28"/>
<circle cx="359.7" cy="275.9" r="1.97" opacity="0.28"/>
<circle cx="315.9" cy="290.9" r="3.71" opacity="0.28"/>
<circle cx="318.7" cy="261.8" r="2.62" opacity="0.28"/>
<circle cx="353.6" cy="261.0" r="1.97" opacity="0.28"/>
<circle cx="369.9" cy="285.7" r="1.97" opacity="0.28"/>
<circle cx="341.1" cy="253.3" r="3.06" opacity="0.28"/>
<circle cx="358.6" cy="299.0" r="3.06" opacity="0.28"/>
<circle cx="356.8" cy="312.7" r="3.06" opacity="0.28"/>
<circle cx="318.5" cy="310.9" r="1.97" opacity="0.28"/>
<circle cx="304.9" cy="293.4" r="3.71" opacity="0.28"/>
<circle cx="307.0" cy="271.8" r="2.40" opacity="0.28"/>
<circle cx="315.6" cy="299.5" r="3.71" opacity="0.28"/>
<circle cx="322.5" cy="263.0" r="2.62" opacity="0.28"/>
<circle cx="315.1" cy="308.9" r="2.62" opacity="0.28"/>
<circle cx="304.9" cy="289.1" r="3.71" opacity="0.28"/>
<circle cx="313.2" cy="267.6" r="3.06" opacity="0.28"/>
<circle cx="313.6" cy="273.3" r="1.97" opacity="0.28"/>
<circle cx="311.0" cy="292.2" r="3.06" opacity="0.28"/>
<circle cx="354.7" cy="299.6" r="3.06" opacity="0.28"/>
<circle cx="328.5" cy="264.6" r="3.71" opacity="0.28"/>
<circle cx="340.0" cy="251.9" r="1.97" opacity="0.28"/>
<circle cx="313.9" cy="280.9" r="3.71" opacity="0.28"/>
<circle cx="362.2" cy="293.1" r="2.40" opacity="0.28"/>
<circle cx="361.4" cy="303.2" r="3.71" opacity="0.28"/>
<circle cx="318.6" cy="266.8" r="2.40" opacity="0.28"/>
<circle cx="364.4" cy="297.4" r="2.62" opacity="0.28"/>
<circle cx="307.9" cy="279.0" r="3.06" opacity="0.28"/>
<circle cx="336.8" cy="252.8" r="3.71" opacity="0.28"/>
<circle cx="313.2" cy="271.7" r="2.62" opacity="0.28"/>
<circle cx="336.2" cy="255.0" r="2.40" opacity="0.28"/>
<circle cx="351.8" cy="306.4" r="2.62" opacity="0.28"/>
<circle cx="348.7" cy="263.2" r="2.40" opacity="0.28"/>
<circle cx="369.6" cy="290.5" r="2.62" opacity="0.28"/>
<circle cx="353.1" cy="308.2" r="3.06" opacity="0.28"/>
<circle cx="307.0" cy="283.9" r="3.06" opacity="0.28"/>
<circle cx="321.1" cy="308.3" r="2.62" opacity="0.28"/>
<circle cx="348.0" cy="264.3" r="3.06" opacity="0.28"/>
<circle cx="304.8" cy="277.5" r="2.62" opacity="0.28"/>
<circle cx="315.5" cy="302.7" r="1.97" opacity="0.28"/>
<circle cx="361.3" cy="293.2" r="1.97" opacity="0.28"/>
<circle cx="348.5" cy="263.8" r="3.71" opacity="0.28"/>
<circle cx="315.5" cy="274.2" r="2.40" opacity="0.28"/>
<circle cx="338.2" cy="255.5" r="1.97" opacity="0.28"/>
<circle cx="367.1" cy="294.1" r="3.06" opacity="0.28"/>
<circle cx="339.5" cy="256.6" r="1.97" opacity="0.28"/>
<circle cx="309.2" cy="287.6" r="2.40" opacity="0.28"/>
<circle cx="343.6" cy="260.6" r="1.97" opacity="0.28"/>
<circle cx="311.5" cy="315.0" r="3.71" opacity="0.28"/>
<circle cx="312.8" cy="291.0" r="1.97" opacity="0.28"/>
<circle cx="311.4" cy="304.7" r="3.06" opacity="0.28"/>
<circle cx="311.6" cy="285.1" r="1.97" opacity="0.28"/>
<circle cx="367.5" cy="285.9" r="1.97" opacity="0.28"/>
<circle cx="344.4" cy="264.0" r="1.97" opacity="0.28"/>
<circle cx="333.4" cy="252.4" r="3.71" opacity="0.28"/>
<circle cx="304.6" cy="284.9" r="3.71" opacity="0.28"/>
<circle cx="370.4" cy="284.4" r="3.71" opacity="0.28"/>
<circle cx="320.0" cy="303.1" r="3.06" opacity="0.28"/>
<circle cx="306.6" cy="287.9" r="1.97" opacity="0.28"/>
<circle cx="361.5" cy="271.3" r="2.62" opacity="0.28"/>
</g></g>
<path d="M312.09999999999997,316.29999999999995 L324.6,312.0 M361.7,316.29999999999995 L349.19999999999993,312.0" stroke="#111" stroke-width="1.65" fill="none"/>
<path d="M336.90,262.70 L335.44,262.75 L333.99,262.89 L332.55,263.13 L331.13,263.46 L329.73,263.88 L328.36,264.40 L327.03,265.00 L325.75,265.69 L324.51,266.46 L323.32,267.31 L322.19,268.24 L321.13,269.24 L320.13,270.30 L319.20,271.43 L318.35,272.62 L317.58,273.86 L316.90,275.15 L316.29,276.48 L315.78,277.84 L315.36,279.24 L315.03,280.66 L314.79,282.10 L314.65,283.55 L314.60,285.01 L314.65,286.47 L314.79,287.92 L315.03,289.36 L315.36,290.79 L315.79,292.18 L316.30,293.55 L325.00,314.50 L325.37,315.18 L325.79,315.73 L326.29,316.14 L326.87,316.42 L327.57,316.55 L328.40,316.55 L329.73,316.27 L331.11,315.98 L332.54,315.72 L333.99,315.50 L335.44,315.35 L336.90,315.30 L338.36,315.35 L339.81,315.50 L341.26,315.72 L342.69,315.98 L344.07,316.27 L345.40,316.55 L346.23,316.55 L346.93,316.42 L347.51,316.14 L348.01,315.73 L348.43,315.18 L348.80,314.50 L357.50,293.55 L358.01,292.18 L358.44,290.79 L358.77,289.36 L359.01,287.92 L359.15,286.47 L359.20,285.01 L359.15,283.55 L359.01,282.10 L358.77,280.66 L358.44,279.24 L358.02,277.84 L357.51,276.48 L356.90,275.15 L356.22,273.86 L355.45,272.62 L354.60,271.43 L353.67,270.30 L352.67,269.24 L351.61,268.24 L350.48,267.31 L349.29,266.46 L348.05,265.69 L346.77,265.00 L345.44,264.40 L344.07,263.88 L342.67,263.46 L341.25,263.13 L339.81,262.89 L338.36,262.75 L336.90,262.70 Z" fill="#fff" stroke="#0a0a0a" stroke-width="3.0" stroke-linejoin="round"/>
<path d="M312.40,316.40 L312.72,317.23 L313.05,318.06 L313.34,318.92 L313.55,319.80 L313.63,320.72 L313.53,321.69 L313.20,322.71 L312.60,323.80 L311.36,325.01 L310.12,326.31 L308.90,327.72 L307.71,329.23 L306.54,330.85 L305.43,332.60 L304.37,334.47 L303.38,336.48 L302.46,338.62 L301.63,340.90 L300.90,343.34 L300.28,345.93 L299.78,348.69 L299.41,351.62 L299.18,354.72 L299.10,358.00 L299.10,413.90 L299.10,413.90 L299.23,415.54 L299.61,417.14 L300.24,418.67 L301.11,420.07 L302.18,421.32 L303.43,422.39 L304.83,423.26 L306.36,423.89 L307.96,424.27 L309.60,424.40 L311.24,424.27 L312.84,423.89 L314.37,423.26 L315.77,422.39 L317.02,421.32 L318.09,420.07 L318.96,418.67 L319.59,417.14 L319.97,415.54 L320.10,413.90 L320.10,400.80 L331.05,389.85 L331.58,389.20 L331.94,388.44 L332.13,387.62 L332.13,386.78 L331.94,385.96 L331.58,385.20 L331.05,384.55 L330.40,384.02 L329.64,383.66 L328.82,383.47 L327.98,383.47 L327.16,383.66 L326.40,384.02 L325.75,384.55 L320.10,390.20 L320.10,370.50 L331.05,359.55 L331.58,358.90 L331.94,358.14 L332.13,357.32 L332.13,356.48 L331.94,355.66 L331.58,354.90 L331.05,354.25 L330.40,353.72 L329.64,353.36 L328.82,353.17 L327.98,353.17 L327.16,353.36 L326.40,353.72 L325.75,354.25 L320.10,359.90 L320.10,353.50 L320.10,353.50 L320.18,351.87 L320.42,350.26 L320.81,348.68 L321.36,347.15 L322.06,345.67 L322.90,344.28 L323.87,342.97 L324.96,341.76 L326.17,340.67 L327.48,339.70 L328.87,338.86 L330.35,338.16 L331.88,337.61 L333.46,337.22 L335.07,336.98 L336.70,336.90 L338.33,336.98 L339.94,337.22 L341.52,337.61 L343.05,338.16 L344.53,338.86 L345.92,339.70 L347.23,340.67 L348.44,341.76 L349.53,342.97 L350.50,344.28 L351.34,345.67 L352.04,347.15 L352.59,348.68 L352.98,350.26 L353.22,351.87 L353.30,353.50 L353.30,353.50 L353.30,359.90 L347.25,354.25 L346.60,353.72 L345.84,353.36 L345.02,353.17 L344.18,353.17 L343.36,353.36 L342.60,353.72 L341.95,354.25 L341.42,354.90 L341.06,355.66 L340.87,356.48 L340.87,357.32 L341.06,358.14 L341.42,358.90 L341.95,359.55 L353.30,370.90 L353.30,390.20 L347.25,384.55 L346.60,384.02 L345.84,383.66 L345.02,383.47 L344.18,383.47 L343.36,383.66 L342.60,384.02 L341.95,384.55 L341.42,385.20 L341.06,385.96 L340.87,386.78 L340.87,387.62 L341.06,388.44 L341.42,389.20 L341.95,389.85 L353.30,401.20 L353.30,413.70 L353.43,415.37 L353.82,417.01 L354.47,418.56 L355.34,419.99 L356.43,421.27 L357.71,422.36 L359.14,423.23 L360.69,423.88 L362.33,424.27 L364.00,424.40 L365.67,424.27 L367.31,423.88 L368.86,423.23 L370.29,422.36 L371.57,421.27 L372.66,419.99 L373.53,418.56 L374.18,417.01 L374.57,415.37 L374.70,413.70 L374.70,413.70 L374.70,358.00 L374.62,354.72 L374.39,351.62 L374.02,348.69 L373.52,345.93 L372.90,343.34 L372.17,340.90 L371.34,338.62 L370.43,336.48 L369.43,334.47 L368.37,332.60 L367.26,330.85 L366.09,329.23 L364.90,327.72 L363.67,326.31 L362.44,325.01 L361.20,323.80 L360.60,322.71 L360.27,321.69 L360.17,320.72 L360.25,319.80 L360.46,318.92 L360.75,318.06 L361.08,317.23 L361.40,316.40 L368.62,296.28 L369.13,294.75 L369.56,293.20 L369.92,291.62 L370.21,290.04 L370.41,288.44 L370.54,286.83 L370.60,285.22 L370.58,283.60 L370.47,281.99 L370.30,280.39 L370.04,278.79 L369.71,277.22 L369.31,275.65 L368.83,274.11 L368.27,272.60 L367.65,271.11 L366.95,269.65 L366.19,268.23 L365.36,266.85 L364.46,265.51 L363.50,264.21 L362.48,262.96 L361.40,261.76 L360.27,260.62 L359.08,259.53 L357.84,258.49 L356.55,257.52 L355.22,256.61 L353.84,255.77 L352.43,254.99 L350.98,254.28 L349.50,253.64 L347.99,253.08 L346.45,252.58 L344.89,252.16 L343.32,251.82 L341.72,251.55 L340.12,251.35 L338.51,251.24 L336.90,251.20 L335.29,251.24 L333.68,251.35 L332.08,251.55 L330.48,251.82 L328.91,252.16 L327.35,252.58 L325.81,253.08 L324.30,253.64 L322.82,254.28 L321.37,254.99 L319.96,255.77 L318.58,256.61 L317.25,257.52 L315.96,258.49 L314.72,259.53 L313.53,260.62 L312.40,261.76 L311.32,262.96 L310.30,264.21 L309.34,265.51 L308.44,266.85 L307.61,268.23 L306.85,269.65 L306.15,271.11 L305.53,272.60 L304.97,274.11 L304.49,275.65 L304.09,277.22 L303.76,278.79 L303.50,280.39 L303.33,281.99 L303.22,283.60 L303.20,285.22 L303.26,286.83 L303.39,288.44 L303.59,290.04 L303.88,291.62 L304.24,293.20 L304.67,294.75 L305.18,296.28 L312.40,316.40 Z" fill="none" stroke="#0a0a0a" stroke-width="3.3" stroke-linejoin="round"/>
<path d="M309.40,415.10 L309.40,354.10 L309.40,354.10 L309.48,351.96 L309.74,349.83 L310.15,347.73 L310.74,345.66 L311.48,343.65 L312.38,341.71 L313.42,339.84 L314.61,338.05 L315.94,336.37 L317.40,334.80 L318.97,333.34 L320.65,332.01 L322.44,330.82 L324.31,329.78 L326.25,328.88 L328.26,328.14 L330.33,327.55 L332.43,327.14 L334.56,326.88 L336.70,326.80 L338.84,326.88 L340.97,327.14 L343.07,327.55 L345.14,328.14 L347.15,328.88 L349.09,329.78 L350.96,330.82 L352.75,332.01 L354.43,333.34 L356.00,334.80 L357.46,336.37 L358.79,338.05 L359.98,339.84 L361.02,341.71 L361.92,343.65 L362.66,345.66 L363.25,347.73 L363.66,349.83 L363.92,351.96 L364.00,354.10 L364.00,414.20" fill="none" stroke="#0a0a0a" stroke-width="4.8" stroke-linecap="butt" stroke-linejoin="round"/>
<circle cx="364.0" cy="414.2" r="2.40" fill="#0a0a0a"/>
<line x1="321.5" y1="359.9" x2="326.6" y2="354.9" stroke="#0a0a0a" stroke-width="2.47" stroke-linecap="round"/>
<line x1="321.5" y1="390.2" x2="326.6" y2="385.2" stroke="#0a0a0a" stroke-width="2.47" stroke-linecap="round"/>
</g></g>
<g filter="url(#b03)">
<text transform="translate(336.6,210.1) scale(1.03,1.045)" font-size="15.6" text-anchor="middle" style="font-family:'Liberation Sans',Arial,sans-serif;fill:#151515;stroke:#151515;stroke-width:0.3px">9</text>
<text transform="translate(336.7,513.9) scale(1.03,1.045)" font-size="15.6" text-anchor="middle" style="font-family:'Liberation Sans',Arial,sans-serif;fill:#151515;stroke:#151515;stroke-width:0.3px">10</text>
<text transform="translate(426.4,250.1) scale(1.022,1.045)" font-size="15.6" text-anchor="start" style="font-family:'Liberation Sans',Arial,sans-serif;fill:#151515;stroke:#151515;stroke-width:0.3px">SPONGE</text>
<text transform="translate(117.0,485.3) scale(1.022,1.045)" font-size="15.6" text-anchor="start" style="font-family:'Liberation Sans',Arial,sans-serif;fill:#151515;stroke:#151515;stroke-width:0.3px">METAL INSERT</text>
<text transform="translate(366.8,471.4) scale(1.022,1.045)" font-size="15.6" text-anchor="start" style="font-family:'Liberation Sans',Arial,sans-serif;fill:#151515;stroke:#151515;stroke-width:0.3px">PANEL THICKNESS 1.0 - 3.0</text>
<text transform="translate(36.0,121.0) scale(1.02,1.04)" font-size="10.4" text-anchor="start" style="font-family:'Liberation Sans',Arial,sans-serif;fill:#151515;stroke:#151515;stroke-width:0.3px">ACTUAL SIZE</text>
<text transform="translate(200.8,337.8) rotate(-90) scale(1,1.07)" font-size="15.5" text-anchor="middle" style="font-family:'Liberation Sans',Arial,sans-serif;fill:#151515;stroke:#151515;stroke-width:0.3px">23</text>
<text transform="translate(250.2,370.4) rotate(-90) scale(1,1.07)" font-size="15.5" text-anchor="middle" style="font-family:'Liberation Sans',Arial,sans-serif;fill:#151515;stroke:#151515;stroke-width:0.3px">14.4</text>
<text transform="translate(418.6,381.1) rotate(-90) scale(1,1.07)" font-size="15.5" text-anchor="middle" style="font-family:'Liberation Sans',Arial,sans-serif;fill:#151515;stroke:#151515;stroke-width:0.3px">11.6</text>
</g>
<defs>
<linearGradient id="pbody" gradientUnits="userSpaceOnUse" x1="612" y1="8" x2="642" y2="72"><stop offset="0" stop-color="#787878"/><stop offset="0.08" stop-color="#565656"/><stop offset="0.3" stop-color="#404040"/><stop offset="0.55" stop-color="#2a2a2a"/><stop offset="0.8" stop-color="#151515"/><stop offset="1" stop-color="#0a0a0a"/></linearGradient>
<linearGradient id="pmetal" gradientUnits="userSpaceOnUse" x1="574" y1="0" x2="609.5" y2="0"><stop offset="0" stop-color="#6a6a6a"/><stop offset="0.1" stop-color="#cfcfcf"/><stop offset="0.24" stop-color="#9a9a9a"/><stop offset="0.45" stop-color="#b8b8b8"/><stop offset="0.66" stop-color="#8c8c8c"/><stop offset="0.82" stop-color="#dcdcdc"/><stop offset="0.93" stop-color="#9a9a9a"/><stop offset="1" stop-color="#4a4a4a"/></linearGradient>
<radialGradient id="pring" gradientUnits="userSpaceOnUse" cx="587.8" cy="51.0" r="14.7"><stop offset="0.68" stop-color="#666"/><stop offset="0.77" stop-color="#c4c4c4"/><stop offset="0.9" stop-color="#a8a8a8"/><stop offset="1" stop-color="#444"/></radialGradient>
<clipPath id="pclip"><rect x="556" y="0" width="144" height="133"/></clipPath>
</defs>
<g clip-path="url(#pclip)">
<ellipse cx="694" cy="126" rx="50" ry="12" fill="#f9f9f9" filter="url(#b2)"/>
<polygon points="606,116 700,63 700,70 612,120" fill="#bbb" filter="url(#b2)" opacity="0.7"/>
<polygon points="576,39 590,30 660,-1 705,-4 705,30 600,60" fill="#8a8a8a" filter="url(#b2)" opacity="0.6"/>
<g filter="url(#b1)">
<polygon points="577,40 590,31 660,0 705,-3 705,58 609,114 596,114 590,70" fill="url(#pbody)"/>
</g>
<g filter="url(#b05)">
<polygon points="583,76 599,75 599,108 584,111" fill="#0b0b0b"/>
<circle cx="587.8" cy="51.0" r="15.6" fill="#222"/>
<circle cx="587.8" cy="51.0" r="14.7" fill="url(#pring)"/>
<circle cx="588.9" cy="50.2" r="10.3" fill="#070707"/>
<path d="M583.2,62.5 C581.5,68 578,76 575.8,84 C574.6,92 574.4,102 574.8,108 C575,112.5 576.5,114.4 579.5,114.4 C582.6,114.4 584.2,113 584.3,109.5 L584.4,90 C584.4,82 586.8,77.6 591,77.4 C595.4,77.6 597.6,82 597.7,90 L597.8,107 C597.9,110.6 599.6,112.2 603,112.1 C606.6,112 608.6,110.2 608.7,106 L608.8,86 C608.2,78 602,69 598.8,62.5 Z" fill="url(#pmetal)" stroke="#3a3a3a" stroke-width="0.9" stroke-linejoin="round"/>
<path d="M584.6,90.5 L590,87.6 M597.4,90 L592,87.4 M584.6,101.5 L590,98.6 M597.4,101 L592,98.4" stroke="#9a9a9a" stroke-width="2.0" stroke-linecap="round" fill="none"/>
</g>
<g style="font-family:'Liberation Sans',Arial,sans-serif;font-weight:bold" filter="url(#b03)">
<filter id="fatV" x="-15%" y="-20%" width="130%" height="140%" color-interpolation-filters="sRGB"><feMorphology in="SourceGraphic" operator="dilate" radius="4.07 2.80" result="fat"/><feMorphology in="SourceGraphic" operator="dilate" radius="0.90 0.6" result="d1"/><feMorphology in="SourceAlpha" operator="erode" radius="0.80 0.55" result="e1"/><feComposite in="d1" in2="e1" operator="out" result="band"/><feColorMatrix in="band" type="matrix" values="0.25 0 0 0 0  0 0.2 0 0 0  0 0 0.35 0 0  0 0 0 0.85 0" result="dark"/><feMerge><feMergeNode in="fat"/><feMergeNode in="dark"/></feMerge><feGaussianBlur stdDeviation="0.44 0.3"/></filter>
<filter id="fatT" x="-15%" y="-20%" width="130%" height="140%" color-interpolation-filters="sRGB"><feMorphology in="SourceGraphic" operator="dilate" radius="5.73 3.00" result="fat"/><feMorphology in="SourceGraphic" operator="dilate" radius="1.18 0.6" result="d1"/><feMorphology in="SourceAlpha" operator="erode" radius="1.05 0.55" result="e1"/><feComposite in="d1" in2="e1" operator="out" result="band"/><feColorMatrix in="band" type="matrix" values="0.25 0 0 0 0  0 0.2 0 0 0  0 0 0.35 0 0  0 0 0 0.85 0" result="dark"/><feMerge><feMergeNode in="fat"/><feMergeNode in="dark"/></feMerge><feGaussianBlur stdDeviation="0.57 0.3"/></filter>
<filter id="fatK" x="-15%" y="-20%" width="130%" height="140%" color-interpolation-filters="sRGB"><feMorphology in="SourceGraphic" operator="dilate" radius="4.66 2.90" result="fat"/><feMorphology in="SourceGraphic" operator="dilate" radius="1.00 0.6" result="d1"/><feMorphology in="SourceAlpha" operator="erode" radius="0.88 0.55" result="e1"/><feComposite in="d1" in2="e1" operator="out" result="band"/><feColorMatrix in="band" type="matrix" values="0.25 0 0 0 0  0 0.2 0 0 0  0 0 0.35 0 0  0 0 0 0.85 0" result="dark"/><feMerge><feMergeNode in="fat"/><feMergeNode in="dark"/></feMerge><feGaussianBlur stdDeviation="0.48 0.3"/></filter>
<g>
<text transform="translate(604.7,58.4) scale(0.688,1)" font-size="57.0" fill="#f01414" filter="url(#fatV)">V</text><text transform="translate(640.4,57.4) scale(0.524,1)" font-size="56.2" fill="#0bd20b" filter="url(#fatT)">T</text><text transform="translate(667.1,57.5) scale(0.622,1)" font-size="56.6" fill="#0a0af0" filter="url(#fatK)">K</text>
</g>
<rect x="603.2" y="63.9" width="95.3" height="1.5" fill="#e41212"/>
<text x="603.6" y="74.6" font-size="9.6" textLength="94.6" lengthAdjust="spacingAndGlyphs" fill="#d81414" stroke="#d81414" stroke-width="0.75">VTK TRADING PRODUCTION CO.,LTD</text>
</g>
</g>
<rect x="0" y="0" width="700" height="1.2" fill="#2b2b2b"/>
<rect x="0" y="1.2" width="700" height="1" fill="#2b2b2b" opacity="0.25"/>
</svg>
</body></html>
